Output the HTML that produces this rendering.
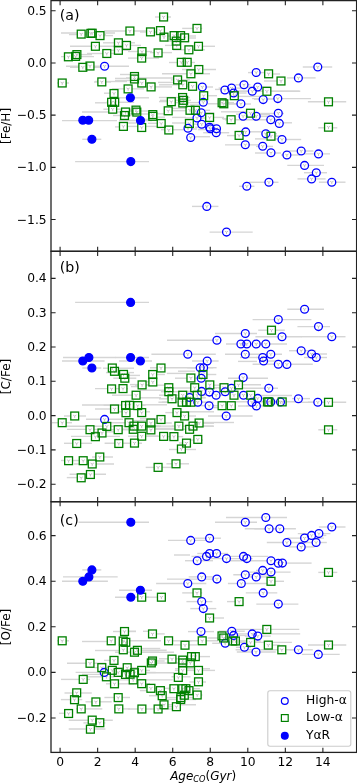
<!DOCTYPE html>
<html><head><meta charset="utf-8"><title>Age vs abundance</title>
<style>html,body{margin:0;padding:0;background:#fff;}svg{display:block;}</style>
</head><body>
<svg width="357" height="783" viewBox="0 0 357 783" font-family="DejaVu Sans, Liberation Sans, sans-serif">
<rect width="357" height="783" fill="#fff"/>
<g stroke="#d5d5d5" stroke-width="1.4" fill="none">
<path d="M61 33H115"/>
<path d="M69 34.5H106"/>
<path d="M104 31H146"/>
<path d="M140 32H160"/>
<path d="M90 35.6H113"/>
<path d="M70 46.3H117"/>
<path d="M103 42.8H135"/>
<path d="M106 50.3H130"/>
<path d="M87 53.5H115"/>
<path d="M61 56.6H94"/>
<path d="M66 66.2H129"/>
<path d="M70 67.3H100"/>
<path d="M155 17H171"/>
<path d="M166 36H196"/>
<path d="M188 38H196"/>
<path d="M120 45.4H141"/>
<path d="M165 45.4H173"/>
<path d="M195 46.3H215"/>
<path d="M128 51.5H152"/>
<path d="M150 52.6H172"/>
<path d="M128 58.1H159"/>
<path d="M169 62.5H195"/>
<path d="M182 69.5H216"/>
<path d="M162 73.8H210"/>
<path d="M248 72.6H265"/>
<path d="M271 74H280"/>
<path d="M264 81H279"/>
<path d="M198 87H213"/>
<path d="M215 89.4H225"/>
<path d="M200 95.7H217"/>
<path d="M238 96.4H260"/>
<path d="M254 99.2H273"/>
<path d="M229 104H251"/>
<path d="M221 111.8H246"/>
<path d="M260 114.6H270"/>
<path d="M212 117.4H224"/>
<path d="M223 119H236"/>
<path d="M120 74.5H138"/>
<path d="M126 78H174"/>
<path d="M95 81.5H127"/>
<path d="M158 82.4H178"/>
<path d="M140 86.9H172"/>
<path d="M187 86.5H196"/>
<path d="M118 97.8H149"/>
<path d="M159 101.6H172"/>
<path d="M175 102.6H200"/>
<path d="M120 111H149"/>
<path d="M150 113.8H168"/>
<path d="M142 119.4H152"/>
<path d="M82.3 139.3H101.3"/>
<path d="M119 120.5H152"/>
<path d="M75.1 161.6H149"/>
<path d="M302.8 67H332.2"/>
<path d="M286.9 77.9H315.6"/>
<path d="M307.9 101.8H346.2"/>
<path d="M318.3 127.8H337.3"/>
<path d="M282 139.5H301.2"/>
<path d="M289 151H313.4"/>
<path d="M287.3 165.4H324"/>
<path d="M297.5 178.9H325.6"/>
<path d="M318.9 182.2H345.5"/>
<path d="M249 182.3H278.5"/>
<path d="M239.1 186.3H254.4"/>
<path d="M192 206.4H218.4"/>
<path d="M209.6 232.1H252.7"/>
<path d="M57 83H69"/>
<path d="M94 82H111"/>
<path d="M115 80.5H130"/>
<path d="M115 78.4H130"/>
<path d="M104 93.2H112"/>
<path d="M95 102.8H108"/>
<path d="M82 112H122"/>
<path d="M62 120.6H117"/>
<path d="M115 126.9H120"/>
<path d="M190 105H200"/>
<path d="M172 108.4H188"/>
<path d="M128 110.7H135"/>
<path d="M170 110.7H186"/>
<path d="M130 114H150"/>
<path d="M157 117.2H165"/>
<path d="M172 117.4H186"/>
<path d="M128 123H139"/>
<path d="M148 123.3H164"/>
<path d="M172 123H186"/>
<path d="M128 126.4H159"/>
<path d="M161 129.7H185"/>
<path d="M190 129H197"/>
<path d="M194 136.7H210"/>
<path d="M236 114.2H243"/>
<path d="M260 113.5H284"/>
<path d="M246 116.4H270"/>
<path d="M222 118.6H231"/>
<path d="M273 122.8H292"/>
<path d="M198 129.6H217"/>
<path d="M242 131.8H264"/>
<path d="M268 133.8H277"/>
<path d="M227 135.6H239"/>
<path d="M275 136H284"/>
<path d="M255 138.9H278"/>
<path d="M225 144.9H259"/>
<path d="M256 146.4H273"/>
<path d="M255 153H281"/>
<path d="M281 155H300"/>
<path d="M184.8 118H212.8"/>
<path d="M188.2 112.8H214.2"/>
<path d="M188.7 124.2H214.7"/>
<path d="M195 127.3H221"/>
<path d="M203.2 132.7H229.2"/>
<path d="M218.6 88.1H244.6"/>
<path d="M220.6 93H246.6"/>
<path d="M235.5 84.8H250.5"/>
<path d="M236.3 91.3H300.3"/>
<path d="M244.7 87H270.7"/>
<path d="M225 119.7H282"/>
<path d="M252.1 98.6H310.9"/>
<path d="M304 172.7H327"/>
<path d="M297.4 153.9H330"/>
<path d="M64.7 54.6H92"/>
<path d="M106.2 102.3H134.2"/>
<path d="M103.4 109.2H134.4"/>
<path d="M112.1 88.9H144.1"/>
<path d="M113 115.5H136"/>
<path d="M166.7 41.1H189.3"/>
<path d="M182.2 28.4H202.2"/>
<path d="M172.9 49.8H204.9"/>
<path d="M137.8 83H150.1"/>
<path d="M170.8 79.9H189.8"/>
<path d="M159.1 84.8H190.1"/>
<path d="M158.9 97.5H189.9"/>
<path d="M159.9 100.3H190.9"/>
<path d="M188.2 110.3H210.2"/>
<path d="M235.4 91.3H299.4"/>
<path d="M218.1 102.7H234"/>
<path d="M207.8 103.8H239.8"/>
<path d="M75.1 302.4H149"/>
<path d="M119 361H152"/>
<path d="M115 357.5H149"/>
<path d="M82.3 368H101.3"/>
<path d="M63 357.5H115.5"/>
<path d="M62 361H104.6"/>
<path d="M287.3 309.3H324"/>
<path d="M301 336.7H318.9"/>
<path d="M318.9 336.7H345.5"/>
<path d="M307.9 402.3H346.2"/>
<path d="M318.3 429.8H337.3"/>
<path d="M166.4 463.8H189"/>
<path d="M145.7 467.4H171.2"/>
<path d="M167 340.2H222"/>
<path d="M215 333.5H257"/>
<path d="M151.4 354.2H215.8"/>
<path d="M192 361H218.6"/>
<path d="M252.6 319.6H311.4"/>
<path d="M297.4 326.6H330"/>
<path d="M258.2 330.2H284.8"/>
<path d="M255.4 336.7H301.6"/>
<path d="M226 344H287"/>
<path d="M289 350.7H315.6"/>
<path d="M225 354.2H282"/>
<path d="M304 354H327"/>
<path d="M304 357.5H327"/>
<path d="M240 357.5H257"/>
<path d="M266 361H282"/>
<path d="M252.6 364.3H312.8"/>
<path d="M238 361.4H257"/>
<path d="M228 378.2H268"/>
<path d="M228 384.7H261"/>
<path d="M240 388.3H278"/>
<path d="M254 395.5H292"/>
<path d="M292 398.6H310"/>
<path d="M236 401.8H300"/>
<path d="M300 402.3H318"/>
<path d="M238 406H251"/>
<path d="M208 416H252.6"/>
<path d="M150 367.8H195"/>
<path d="M178 371.2H195"/>
<path d="M166.8 373.4H186.4"/>
<path d="M175 378.2H199"/>
<path d="M140 381.8H156"/>
<path d="M135 385.2H167"/>
<path d="M214 385.2H234"/>
<path d="M172 388H192"/>
<path d="M206 388H217"/>
<path d="M140 390.2H164"/>
<path d="M178 393H195"/>
<path d="M214 395.2H223"/>
<path d="M235 395.2H250"/>
<path d="M140 397.8H161"/>
<path d="M199 397.8H206"/>
<path d="M135 404.8H167"/>
<path d="M218.6 404.8H234"/>
<path d="M213 407.6H220"/>
<path d="M186 411.8H214"/>
<path d="M140 418.8H158"/>
<path d="M202 422.5H234"/>
<path d="M103 368.2H134"/>
<path d="M106 372.6H134"/>
<path d="M118 375.4H140"/>
<path d="M130 384.6H150"/>
<path d="M95 388.6H128"/>
<path d="M131 386.6H140"/>
<path d="M112 395.2H136"/>
<path d="M82 405H123"/>
<path d="M95 409H112"/>
<path d="M117 411.8H123"/>
<path d="M142 411.8H150"/>
<path d="M64 416H86"/>
<path d="M86 419.2H123"/>
<path d="M52 422.7H72"/>
<path d="M67 426.3H123"/>
<path d="M67 429.4H106"/>
<path d="M95 431.8H114"/>
<path d="M71 436.4H120"/>
<path d="M64 443.3H92"/>
<path d="M104.6 443.3H142"/>
<path d="M92 457H113"/>
<path d="M61 460.5H78"/>
<path d="M78 460.5H90"/>
<path d="M74 464H114"/>
<path d="M69.6 474.2H106"/>
<path d="M66.8 477.6H90"/>
<path d="M125 420.6H151"/>
<path d="M194 423.2H214"/>
<path d="M154 426.2H161"/>
<path d="M200 426.2H214"/>
<path d="M155 428.4H175"/>
<path d="M147 436.2H158"/>
<path d="M167.8 436.6H183.2"/>
<path d="M183 440H203"/>
<path d="M179 443H189"/>
<path d="M169 449.5H196"/>
<path d="M166.9 397.5H204.9"/>
<path d="M185.6 402.2H213.6"/>
<path d="M187.2 367.7H213.2"/>
<path d="M186.3 391.4H212.3"/>
<path d="M190.6 367.7H216.6"/>
<path d="M194.5 405.7H220.5"/>
<path d="M197.2 392.1H216.2"/>
<path d="M212.2 391.7H238.2"/>
<path d="M218.5 388.3H244.5"/>
<path d="M220.7 -100H246.7"/>
<path d="M246.2 405.9H270.2"/>
<path d="M244.7 398.4H270.7"/>
<path d="M256 357.5H273"/>
<path d="M113.3 378.2H136.3"/>
<path d="M148.7 374.5H164.9"/>
<path d="M199 374.5H216.3"/>
<path d="M104.4 429.7H130"/>
<path d="M103.1 422.7H145.1"/>
<path d="M103.6 405.3H145.6"/>
<path d="M114.4 426.1H173.4"/>
<path d="M113.7 429.3H172.7"/>
<path d="M128 426.1H159"/>
<path d="M139.8 423H171.8"/>
<path d="M128 436.2H159"/>
<path d="M161 391.7H185"/>
<path d="M159 398.8H190"/>
<path d="M193.2 395.2H213.7"/>
<path d="M159 395.2H190"/>
<path d="M158.4 402.2H189.4"/>
<path d="M168.3 402.2H194.3"/>
<path d="M162 402.2H210"/>
<path d="M165.3 412.6H181"/>
<path d="M180.6 416H196"/>
<path d="M172.1 426.1H191.1"/>
<path d="M172.2 429.3H193.6"/>
<path d="M187.4 426.1H213.4"/>
<path d="M208 387.7H240"/>
<path d="M78.5 522.3H149"/>
<path d="M82.3 569.9H101.3"/>
<path d="M63 576.9H117.7"/>
<path d="M62 581.3H107.9"/>
<path d="M318.9 527H345.5"/>
<path d="M119 590.2H152"/>
<path d="M115 597.2H149"/>
<path d="M135 597.2H160"/>
<path d="M113 631.5H136"/>
<path d="M82 641.5H111"/>
<path d="M95 650.5H120"/>
<path d="M120 631.3H136"/>
<path d="M143 631.3H148"/>
<path d="M126 640.7H161"/>
<path d="M173.7 644.9H197"/>
<path d="M136.7 648.5H160.3"/>
<path d="M142 652.3H159"/>
<path d="M159 658.8H190"/>
<path d="M188 656.6H210"/>
<path d="M154.6 663H179.3"/>
<path d="M175 668.7H210"/>
<path d="M145.7 672.5H155.8"/>
<path d="M171.5 676.8H190.5"/>
<path d="M189.4 682H206"/>
<path d="M64.5 693H91.8"/>
<path d="M60.9 699.6H82.3"/>
<path d="M85.5 701.8H111.7"/>
<path d="M104.4 697.5H130"/>
<path d="M76 708.9H102.3"/>
<path d="M114 708.9H130"/>
<path d="M59 713.3H73"/>
<path d="M68.7 720.3H112.8"/>
<path d="M83.4 722.9H105.4"/>
<path d="M68.7 729H105.4"/>
<path d="M215 522.3H257"/>
<path d="M168 540.4H206"/>
<path d="M195 538.2H221"/>
<path d="M174 555H190"/>
<path d="M220 553.5H228"/>
<path d="M185 560.7H213"/>
<path d="M208 558.6H252.6"/>
<path d="M282.4 563.1H311.6"/>
<path d="M318.3 572.4H337.3"/>
<path d="M308 645H346.3"/>
<path d="M75.6 672.4H125.6"/>
<path d="M156.1 583.5H206.3"/>
<path d="M188 631.6H214"/>
<path d="M188.7 576.9H214.7"/>
<path d="M186.4 601.6H212.4"/>
<path d="M190.3 608.6H216.3"/>
<path d="M191.5 556.4H218"/>
<path d="M197.3 553.5H216.3"/>
<path d="M167 579.1H222"/>
<path d="M212.2 643.3H238.2"/>
<path d="M218.8 631.2H244.8"/>
<path d="M220.6 635.4H246.6"/>
<path d="M227.9 583.5H269.4"/>
<path d="M228.3 556.4H268.3"/>
<path d="M235.9 647.3H250.9"/>
<path d="M233.3 574.7H272.8"/>
<path d="M236.2 633.9H300.2"/>
<path d="M236.8 652H275.8"/>
<path d="M246 576.9H270"/>
<path d="M244.8 636.1H270.8"/>
<path d="M256 570.4H273"/>
<path d="M245.8 592.9H277.3"/>
<path d="M226 517.5H287"/>
<path d="M244.75 528.8H278.5"/>
<path d="M225.2 560.7H282.2"/>
<path d="M245.6 572.1H290.6"/>
<path d="M256.3 604.1H298.4"/>
<path d="M254.4 528.8H295.9"/>
<path d="M266.8 542.5H306.4"/>
<path d="M289.45 649.8H312.8"/>
<path d="M289 546.9H314.5"/>
<path d="M287.3 538.1H324"/>
<path d="M300.75 535.4H326.3"/>
<path d="M303.8 542.5H326.8"/>
<path d="M301.9 654.4H339.7"/>
<path d="M297.8 533.6H330.4"/>
<path d="M182.2 592.9H202.2"/>
<path d="M267 581.3H284"/>
<path d="M227 601.6H243.1"/>
<path d="M205.6 618H224"/>
<path d="M57 640.8H69"/>
<path d="M67 663.3H106"/>
<path d="M104 660.4H118"/>
<path d="M94 667.6H127"/>
<path d="M103 670.3H134"/>
<path d="M105.8 672.4H129.8"/>
<path d="M82 674.4H129.5"/>
<path d="M120.7 667.7H141.7"/>
<path d="M86.6 676.8H114.6"/>
<path d="M61 679.4H90"/>
<path d="M106 683.8H134"/>
<path d="M148.5 633.9H164.7"/>
<path d="M115 652.2H174"/>
<path d="M133.4 650.3H166.7"/>
<path d="M148.5 661H164.7"/>
<path d="M137.7 670.4H150"/>
<path d="M115 672.7H174"/>
<path d="M104.2 674.2H146.2"/>
<path d="M113.7 679.9H172.7"/>
<path d="M137.7 683.7H150"/>
<path d="M146.9 688.3H175"/>
<path d="M139.9 690.6H164.4"/>
<path d="M149 695.7H166.2"/>
<path d="M164.6 640.8H191.8"/>
<path d="M186.2 640.8H218.2"/>
<path d="M170.3 662.9H194.3"/>
<path d="M174.9 670.4H199.9"/>
<path d="M194.5 670.4H215"/>
<path d="M167.8 688.7H183.2"/>
<path d="M174.9 688.7H199.9"/>
<path d="M178.4 688.7H189.9"/>
<path d="M171.6 690.6H193"/>
<path d="M166.2 697.6H196.2"/>
<path d="M182.4 695H202.4"/>
<path d="M127.9 709H151.9"/>
<path d="M150 709H172"/>
<path d="M160 704.8H196"/>
<path d="M164.7 706.7H180.4"/>
<path d="M166.1 699.5H196.1"/>
<path d="M180.3 695.2H195.7"/>
<path d="M218 635.9H233.9"/>
<path d="M207.7 638H239.7"/>
<path d="M228.8 641H248.8"/>
<path d="M231.4 641H261.1"/>
<path d="M234.9 642.4H291.9"/>
<path d="M235.3 629.4H299.3"/>
<path d="M264.3 645.1H279.7"/>
<path d="M235.6 649.8H299.6"/>
</g>
<g fill="#fff" stroke="none">
<circle cx="104.6" cy="66.2" r="3.92"/>
<circle cx="202.3" cy="87" r="3.92"/>
<circle cx="203.3" cy="102.3" r="3.92"/>
<circle cx="201.2" cy="112.8" r="3.92"/>
<circle cx="197" cy="118" r="3.92"/>
<circle cx="201.7" cy="124.2" r="3.92"/>
<circle cx="188" cy="128.3" r="3.92"/>
<circle cx="190.7" cy="137.5" r="3.92"/>
<circle cx="256.2" cy="72.5" r="3.92"/>
<circle cx="224.9" cy="90" r="3.92"/>
<circle cx="231.6" cy="88.1" r="3.92"/>
<circle cx="233.6" cy="93" r="3.92"/>
<circle cx="244" cy="84.8" r="3.92"/>
<circle cx="252.3" cy="91.3" r="3.92"/>
<circle cx="257.7" cy="87" r="3.92"/>
<circle cx="263.2" cy="99.6" r="3.92"/>
<circle cx="277.8" cy="98.6" r="3.92"/>
<circle cx="240.9" cy="103.8" r="3.92"/>
<circle cx="243.1" cy="116.2" r="3.92"/>
<circle cx="256.2" cy="116.2" r="3.92"/>
<circle cx="270.8" cy="119.7" r="3.92"/>
<circle cx="278.3" cy="113.2" r="3.92"/>
<circle cx="209.6" cy="127.3" r="3.92"/>
<circle cx="216.5" cy="128.7" r="3.92"/>
<circle cx="279.3" cy="123.4" r="3.92"/>
<circle cx="317.8" cy="67" r="3.92"/>
<circle cx="298.4" cy="77.9" r="3.92"/>
<circle cx="216.2" cy="132.7" r="3.92"/>
<circle cx="245.7" cy="131.9" r="3.92"/>
<circle cx="265.8" cy="133.8" r="3.92"/>
<circle cx="245.3" cy="144.8" r="3.92"/>
<circle cx="262.7" cy="146.3" r="3.92"/>
<circle cx="271" cy="152.8" r="3.92"/>
<circle cx="268.9" cy="182.3" r="3.92"/>
<circle cx="246.8" cy="186.3" r="3.92"/>
<circle cx="206.8" cy="206.4" r="3.92"/>
<circle cx="226.5" cy="232.1" r="3.92"/>
<circle cx="282" cy="139.5" r="3.92"/>
<circle cx="301.2" cy="151" r="3.92"/>
<circle cx="286.9" cy="155" r="3.92"/>
<circle cx="318.5" cy="153.9" r="3.92"/>
<circle cx="304.6" cy="165.4" r="3.92"/>
<circle cx="316.3" cy="172.7" r="3.92"/>
<circle cx="311.6" cy="178.9" r="3.92"/>
<circle cx="331.8" cy="182.2" r="3.92"/>
<circle cx="210.3" cy="128.8" r="3.92"/>
<circle cx="187.8" cy="354.2" r="3.92"/>
<circle cx="200.2" cy="367.7" r="3.92"/>
<circle cx="203.6" cy="367.7" r="3.92"/>
<circle cx="207.2" cy="361" r="3.92"/>
<circle cx="216.9" cy="340.2" r="3.92"/>
<circle cx="245.3" cy="333.5" r="3.92"/>
<circle cx="240.9" cy="344" r="3.92"/>
<circle cx="246.8" cy="344" r="3.92"/>
<circle cx="256.2" cy="344" r="3.92"/>
<circle cx="265.8" cy="344" r="3.92"/>
<circle cx="245.3" cy="354.2" r="3.92"/>
<circle cx="262.7" cy="357.5" r="3.92"/>
<circle cx="263.6" cy="361" r="3.92"/>
<circle cx="270.8" cy="354.2" r="3.92"/>
<circle cx="278.3" cy="319.6" r="3.92"/>
<circle cx="282" cy="336.7" r="3.92"/>
<circle cx="278.3" cy="364.2" r="3.92"/>
<circle cx="304.6" cy="309.3" r="3.92"/>
<circle cx="318.5" cy="326.6" r="3.92"/>
<circle cx="331.8" cy="336.7" r="3.92"/>
<circle cx="301.2" cy="350.7" r="3.92"/>
<circle cx="311.6" cy="354" r="3.92"/>
<circle cx="316.3" cy="357.5" r="3.92"/>
<circle cx="286.9" cy="364.4" r="3.92"/>
<circle cx="104.6" cy="419.4" r="3.92"/>
<circle cx="201.2" cy="378.2" r="3.92"/>
<circle cx="201.6" cy="391.4" r="3.92"/>
<circle cx="197.8" cy="402.2" r="3.92"/>
<circle cx="189.6" cy="397.5" r="3.92"/>
<circle cx="243.2" cy="377.6" r="3.92"/>
<circle cx="209.5" cy="392.1" r="3.92"/>
<circle cx="216.1" cy="395.2" r="3.92"/>
<circle cx="225.2" cy="391.7" r="3.92"/>
<circle cx="231.5" cy="388.3" r="3.92"/>
<circle cx="243.5" cy="395.2" r="3.92"/>
<circle cx="209.1" cy="405.7" r="3.92"/>
<circle cx="226.2" cy="416" r="3.92"/>
<circle cx="268.8" cy="388.3" r="3.92"/>
<circle cx="257.7" cy="398.4" r="3.92"/>
<circle cx="252" cy="402.2" r="3.92"/>
<circle cx="256.4" cy="405.9" r="3.92"/>
<circle cx="270.8" cy="401.9" r="3.92"/>
<circle cx="280.5" cy="401.9" r="3.92"/>
<circle cx="298.4" cy="398.8" r="3.92"/>
<circle cx="317.8" cy="402.3" r="3.92"/>
<circle cx="190.7" cy="540.4" r="3.92"/>
<circle cx="197.2" cy="560.7" r="3.92"/>
<circle cx="201.7" cy="576.9" r="3.92"/>
<circle cx="187.8" cy="583.5" r="3.92"/>
<circle cx="201.7" cy="601.6" r="3.92"/>
<circle cx="203.3" cy="608.6" r="3.92"/>
<circle cx="245.3" cy="522.3" r="3.92"/>
<circle cx="265.8" cy="517.5" r="3.92"/>
<circle cx="269.1" cy="528.8" r="3.92"/>
<circle cx="279.8" cy="528.8" r="3.92"/>
<circle cx="209.6" cy="538.2" r="3.92"/>
<circle cx="206.5" cy="556.4" r="3.92"/>
<circle cx="209.6" cy="553.5" r="3.92"/>
<circle cx="216.6" cy="553.5" r="3.92"/>
<circle cx="226.5" cy="558.6" r="3.92"/>
<circle cx="243.5" cy="556.4" r="3.92"/>
<circle cx="246.8" cy="558.6" r="3.92"/>
<circle cx="271" cy="560.7" r="3.92"/>
<circle cx="278.3" cy="563.2" r="3.92"/>
<circle cx="216.9" cy="579.1" r="3.92"/>
<circle cx="245.3" cy="574.7" r="3.92"/>
<circle cx="256.2" cy="576.9" r="3.92"/>
<circle cx="262.7" cy="570.4" r="3.92"/>
<circle cx="271" cy="572.1" r="3.92"/>
<circle cx="241.3" cy="583.5" r="3.92"/>
<circle cx="263.2" cy="592.9" r="3.92"/>
<circle cx="278.3" cy="604.1" r="3.92"/>
<circle cx="331.8" cy="527" r="3.92"/>
<circle cx="318.9" cy="533.6" r="3.92"/>
<circle cx="311.6" cy="535.4" r="3.92"/>
<circle cx="304.6" cy="538.1" r="3.92"/>
<circle cx="316.1" cy="542.5" r="3.92"/>
<circle cx="286.9" cy="542.5" r="3.92"/>
<circle cx="301.2" cy="546.9" r="3.92"/>
<circle cx="282.4" cy="563.1" r="3.92"/>
<circle cx="104.2" cy="672.4" r="3.92"/>
<circle cx="201" cy="631.6" r="3.92"/>
<circle cx="231.8" cy="631.2" r="3.92"/>
<circle cx="233.6" cy="635.4" r="3.92"/>
<circle cx="225.2" cy="643.3" r="3.92"/>
<circle cx="244.4" cy="647.3" r="3.92"/>
<circle cx="252.2" cy="633.9" r="3.92"/>
<circle cx="257.8" cy="636.1" r="3.92"/>
<circle cx="256" cy="652" r="3.92"/>
<circle cx="298.4" cy="649.8" r="3.92"/>
<circle cx="318.3" cy="654.4" r="3.92"/>
<rect x="77.28" y="30.18" width="7.85" height="7.85"/>
<rect x="86.88" y="29.47" width="7.85" height="7.85"/>
<rect x="88.28" y="29.28" width="7.85" height="7.85"/>
<rect x="96.08" y="31.68" width="7.85" height="7.85"/>
<rect x="125.98" y="27.07" width="7.85" height="7.85"/>
<rect x="91.48" y="42.38" width="7.85" height="7.85"/>
<rect x="102.88" y="49.58" width="7.85" height="7.85"/>
<rect x="114.48" y="38.88" width="7.85" height="7.85"/>
<rect x="114.48" y="46.38" width="7.85" height="7.85"/>
<rect x="122.58" y="41.48" width="7.85" height="7.85"/>
<rect x="64.48" y="52.88" width="7.85" height="7.85"/>
<rect x="71.67" y="52.48" width="7.85" height="7.85"/>
<rect x="72.98" y="50.68" width="7.85" height="7.85"/>
<rect x="78.88" y="63.38" width="7.85" height="7.85"/>
<rect x="86.08" y="62.08" width="7.85" height="7.85"/>
<rect x="58.28" y="79.08" width="7.85" height="7.85"/>
<rect x="97.88" y="77.98" width="7.85" height="7.85"/>
<rect x="110.08" y="89.58" width="7.85" height="7.85"/>
<rect x="107.67" y="98.38" width="7.85" height="7.85"/>
<rect x="110.78" y="98.38" width="7.85" height="7.85"/>
<rect x="108.78" y="105.28" width="7.85" height="7.85"/>
<rect x="124.17" y="84.98" width="7.85" height="7.85"/>
<rect x="121.58" y="108.08" width="7.85" height="7.85"/>
<rect x="120.58" y="111.58" width="7.85" height="7.85"/>
<rect x="119.48" y="122.48" width="7.85" height="7.85"/>
<rect x="159.67" y="13.07" width="7.85" height="7.85"/>
<rect x="146.57" y="27.97" width="7.85" height="7.85"/>
<rect x="156.57" y="26.68" width="7.85" height="7.85"/>
<rect x="160.07" y="33.18" width="7.85" height="7.85"/>
<rect x="170.17" y="31.68" width="7.85" height="7.85"/>
<rect x="176.67" y="31.68" width="7.85" height="7.85"/>
<rect x="180.67" y="33.88" width="7.85" height="7.85"/>
<rect x="172.38" y="37.18" width="7.85" height="7.85"/>
<rect x="172.77" y="41.48" width="7.85" height="7.85"/>
<rect x="193.07" y="24.47" width="7.85" height="7.85"/>
<rect x="194.57" y="42.38" width="7.85" height="7.85"/>
<rect x="184.97" y="45.88" width="7.85" height="7.85"/>
<rect x="138.07" y="47.68" width="7.85" height="7.85"/>
<rect x="137.77" y="54.18" width="7.85" height="7.85"/>
<rect x="154.17" y="48.98" width="7.85" height="7.85"/>
<rect x="177.38" y="58.38" width="7.85" height="7.85"/>
<rect x="183.27" y="58.38" width="7.85" height="7.85"/>
<rect x="186.97" y="69.88" width="7.85" height="7.85"/>
<rect x="194.88" y="65.58" width="7.85" height="7.85"/>
<rect x="130.57" y="72.58" width="7.85" height="7.85"/>
<rect x="130.57" y="75.08" width="7.85" height="7.85"/>
<rect x="137.88" y="79.08" width="7.85" height="7.85"/>
<rect x="147.17" y="82.98" width="7.85" height="7.85"/>
<rect x="173.67" y="75.98" width="7.85" height="7.85"/>
<rect x="178.88" y="80.88" width="7.85" height="7.85"/>
<rect x="188.67" y="82.38" width="7.85" height="7.85"/>
<rect x="178.67" y="93.58" width="7.85" height="7.85"/>
<rect x="179.67" y="96.38" width="7.85" height="7.85"/>
<rect x="178.88" y="99.08" width="7.85" height="7.85"/>
<rect x="167.38" y="97.78" width="7.85" height="7.85"/>
<rect x="164.27" y="106.88" width="7.85" height="7.85"/>
<rect x="132.07" y="106.17" width="7.85" height="7.85"/>
<rect x="132.88" y="108.17" width="7.85" height="7.85"/>
<rect x="148.88" y="110.67" width="7.85" height="7.85"/>
<rect x="148.88" y="112.38" width="7.85" height="7.85"/>
<rect x="157.27" y="119.58" width="7.85" height="7.85"/>
<rect x="137.77" y="123.58" width="7.85" height="7.85"/>
<rect x="164.88" y="126.08" width="7.85" height="7.85"/>
<rect x="186.07" y="106.38" width="7.85" height="7.85"/>
<rect x="191.57" y="106.38" width="7.85" height="7.85"/>
<rect x="185.47" y="119.58" width="7.85" height="7.85"/>
<rect x="264.68" y="69.88" width="7.85" height="7.85"/>
<rect x="277.07" y="77.08" width="7.85" height="7.85"/>
<rect x="262.97" y="87.38" width="7.85" height="7.85"/>
<rect x="230.38" y="91.78" width="7.85" height="7.85"/>
<rect x="218.17" y="98.78" width="7.85" height="7.85"/>
<rect x="219.88" y="99.88" width="7.85" height="7.85"/>
<rect x="199.77" y="91.78" width="7.85" height="7.85"/>
<rect x="205.67" y="113.58" width="7.85" height="7.85"/>
<rect x="227.17" y="115.78" width="7.85" height="7.85"/>
<rect x="246.57" y="109.28" width="7.85" height="7.85"/>
<rect x="235.17" y="131.47" width="7.85" height="7.85"/>
<rect x="267.07" y="132.27" width="7.85" height="7.85"/>
<rect x="324.57" y="97.88" width="7.85" height="7.85"/>
<rect x="324.57" y="123.28" width="7.85" height="7.85"/>
<rect x="108.38" y="364.07" width="7.85" height="7.85"/>
<rect x="110.58" y="367.38" width="7.85" height="7.85"/>
<rect x="119.58" y="370.47" width="7.85" height="7.85"/>
<rect x="120.88" y="374.27" width="7.85" height="7.85"/>
<rect x="157.07" y="364.07" width="7.85" height="7.85"/>
<rect x="148.77" y="370.57" width="7.85" height="7.85"/>
<rect x="267.57" y="326.27" width="7.85" height="7.85"/>
<rect x="199.07" y="370.57" width="7.85" height="7.85"/>
<rect x="107.67" y="384.97" width="7.85" height="7.85"/>
<rect x="119.08" y="384.68" width="7.85" height="7.85"/>
<rect x="110.58" y="405.07" width="7.85" height="7.85"/>
<rect x="121.67" y="401.57" width="7.85" height="7.85"/>
<rect x="122.08" y="408.77" width="7.85" height="7.85"/>
<rect x="70.78" y="412.07" width="7.85" height="7.85"/>
<rect x="58.28" y="418.77" width="7.85" height="7.85"/>
<rect x="102.88" y="422.47" width="7.85" height="7.85"/>
<rect x="86.08" y="425.77" width="7.85" height="7.85"/>
<rect x="98.08" y="429.07" width="7.85" height="7.85"/>
<rect x="91.48" y="432.77" width="7.85" height="7.85"/>
<rect x="114.28" y="425.77" width="7.85" height="7.85"/>
<rect x="125.08" y="418.77" width="7.85" height="7.85"/>
<rect x="72.78" y="439.57" width="7.85" height="7.85"/>
<rect x="114.88" y="439.57" width="7.85" height="7.85"/>
<rect x="64.67" y="456.77" width="7.85" height="7.85"/>
<rect x="79.28" y="456.77" width="7.85" height="7.85"/>
<rect x="95.88" y="453.07" width="7.85" height="7.85"/>
<rect x="88.28" y="460.07" width="7.85" height="7.85"/>
<rect x="86.48" y="470.57" width="7.85" height="7.85"/>
<rect x="77.28" y="473.88" width="7.85" height="7.85"/>
<rect x="138.17" y="380.97" width="7.85" height="7.85"/>
<rect x="132.17" y="391.27" width="7.85" height="7.85"/>
<rect x="125.58" y="401.38" width="7.85" height="7.85"/>
<rect x="133.77" y="401.68" width="7.85" height="7.85"/>
<rect x="137.77" y="408.68" width="7.85" height="7.85"/>
<rect x="157.07" y="415.57" width="7.85" height="7.85"/>
<rect x="129.97" y="422.18" width="7.85" height="7.85"/>
<rect x="129.27" y="425.38" width="7.85" height="7.85"/>
<rect x="137.77" y="422.18" width="7.85" height="7.85"/>
<rect x="146.97" y="419.07" width="7.85" height="7.85"/>
<rect x="146.97" y="425.97" width="7.85" height="7.85"/>
<rect x="137.77" y="432.27" width="7.85" height="7.85"/>
<rect x="159.67" y="432.47" width="7.85" height="7.85"/>
<rect x="130.57" y="439.18" width="7.85" height="7.85"/>
<rect x="148.88" y="378.07" width="7.85" height="7.85"/>
<rect x="186.97" y="374.07" width="7.85" height="7.85"/>
<rect x="164.88" y="383.77" width="7.85" height="7.85"/>
<rect x="164.88" y="387.77" width="7.85" height="7.85"/>
<rect x="168.07" y="394.88" width="7.85" height="7.85"/>
<rect x="190.77" y="383.77" width="7.85" height="7.85"/>
<rect x="193.27" y="391.27" width="7.85" height="7.85"/>
<rect x="178.77" y="391.27" width="7.85" height="7.85"/>
<rect x="178.17" y="398.27" width="7.85" height="7.85"/>
<rect x="182.57" y="398.27" width="7.85" height="7.85"/>
<rect x="186.97" y="398.27" width="7.85" height="7.85"/>
<rect x="173.07" y="408.68" width="7.85" height="7.85"/>
<rect x="180.67" y="412.07" width="7.85" height="7.85"/>
<rect x="174.97" y="422.18" width="7.85" height="7.85"/>
<rect x="185.67" y="425.38" width="7.85" height="7.85"/>
<rect x="189.07" y="422.18" width="7.85" height="7.85"/>
<rect x="195.17" y="419.07" width="7.85" height="7.85"/>
<rect x="169.97" y="432.68" width="7.85" height="7.85"/>
<rect x="193.88" y="435.47" width="7.85" height="7.85"/>
<rect x="182.57" y="439.18" width="7.85" height="7.85"/>
<rect x="177.47" y="445.07" width="7.85" height="7.85"/>
<rect x="172.07" y="459.88" width="7.85" height="7.85"/>
<rect x="154.17" y="463.47" width="7.85" height="7.85"/>
<rect x="205.88" y="380.97" width="7.85" height="7.85"/>
<rect x="220.07" y="383.77" width="7.85" height="7.85"/>
<rect x="234.57" y="380.97" width="7.85" height="7.85"/>
<rect x="230.07" y="391.27" width="7.85" height="7.85"/>
<rect x="218.17" y="401.77" width="7.85" height="7.85"/>
<rect x="227.38" y="401.77" width="7.85" height="7.85"/>
<rect x="246.77" y="391.27" width="7.85" height="7.85"/>
<rect x="263.57" y="397.97" width="7.85" height="7.85"/>
<rect x="264.88" y="397.97" width="7.85" height="7.85"/>
<rect x="278.27" y="397.97" width="7.85" height="7.85"/>
<rect x="324.57" y="398.38" width="7.85" height="7.85"/>
<rect x="324.57" y="425.88" width="7.85" height="7.85"/>
<rect x="137.77" y="593.28" width="7.85" height="7.85"/>
<rect x="157.47" y="593.28" width="7.85" height="7.85"/>
<rect x="193.07" y="588.98" width="7.85" height="7.85"/>
<rect x="267.07" y="577.38" width="7.85" height="7.85"/>
<rect x="235.17" y="597.68" width="7.85" height="7.85"/>
<rect x="205.67" y="614.08" width="7.85" height="7.85"/>
<rect x="324.57" y="568.48" width="7.85" height="7.85"/>
<rect x="58.28" y="636.88" width="7.85" height="7.85"/>
<rect x="107.28" y="636.88" width="7.85" height="7.85"/>
<rect x="120.58" y="627.58" width="7.85" height="7.85"/>
<rect x="119.28" y="637.08" width="7.85" height="7.85"/>
<rect x="121.88" y="638.38" width="7.85" height="7.85"/>
<rect x="119.38" y="645.88" width="7.85" height="7.85"/>
<rect x="86.08" y="659.38" width="7.85" height="7.85"/>
<rect x="110.08" y="656.48" width="7.85" height="7.85"/>
<rect x="97.88" y="663.68" width="7.85" height="7.85"/>
<rect x="108.38" y="666.38" width="7.85" height="7.85"/>
<rect x="114.28" y="668.48" width="7.85" height="7.85"/>
<rect x="121.58" y="670.48" width="7.85" height="7.85"/>
<rect x="123.28" y="663.78" width="7.85" height="7.85"/>
<rect x="102.48" y="672.88" width="7.85" height="7.85"/>
<rect x="79.28" y="675.48" width="7.85" height="7.85"/>
<rect x="110.58" y="679.88" width="7.85" height="7.85"/>
<rect x="72.78" y="688.88" width="7.85" height="7.85"/>
<rect x="70.58" y="695.78" width="7.85" height="7.85"/>
<rect x="91.98" y="697.98" width="7.85" height="7.85"/>
<rect x="114.28" y="693.68" width="7.85" height="7.85"/>
<rect x="77.28" y="704.98" width="7.85" height="7.85"/>
<rect x="114.88" y="704.98" width="7.85" height="7.85"/>
<rect x="64.67" y="709.58" width="7.85" height="7.85"/>
<rect x="88.28" y="716.18" width="7.85" height="7.85"/>
<rect x="95.88" y="718.78" width="7.85" height="7.85"/>
<rect x="86.48" y="725.28" width="7.85" height="7.85"/>
<rect x="148.57" y="629.98" width="7.85" height="7.85"/>
<rect x="130.57" y="648.28" width="7.85" height="7.85"/>
<rect x="133.47" y="646.38" width="7.85" height="7.85"/>
<rect x="147.38" y="658.98" width="7.85" height="7.85"/>
<rect x="148.57" y="657.08" width="7.85" height="7.85"/>
<rect x="137.77" y="666.48" width="7.85" height="7.85"/>
<rect x="130.57" y="668.78" width="7.85" height="7.85"/>
<rect x="126.17" y="670.28" width="7.85" height="7.85"/>
<rect x="129.27" y="675.98" width="7.85" height="7.85"/>
<rect x="137.77" y="679.78" width="7.85" height="7.85"/>
<rect x="146.97" y="684.38" width="7.85" height="7.85"/>
<rect x="156.47" y="686.68" width="7.85" height="7.85"/>
<rect x="158.27" y="691.78" width="7.85" height="7.85"/>
<rect x="164.67" y="636.88" width="7.85" height="7.85"/>
<rect x="181.07" y="641.28" width="7.85" height="7.85"/>
<rect x="198.27" y="636.88" width="7.85" height="7.85"/>
<rect x="168.07" y="655.18" width="7.85" height="7.85"/>
<rect x="178.77" y="656.18" width="7.85" height="7.85"/>
<rect x="178.77" y="658.98" width="7.85" height="7.85"/>
<rect x="186.38" y="658.98" width="7.85" height="7.85"/>
<rect x="187.57" y="652.68" width="7.85" height="7.85"/>
<rect x="191.38" y="652.68" width="7.85" height="7.85"/>
<rect x="178.77" y="666.48" width="7.85" height="7.85"/>
<rect x="194.57" y="666.48" width="7.85" height="7.85"/>
<rect x="174.38" y="673.48" width="7.85" height="7.85"/>
<rect x="194.57" y="677.88" width="7.85" height="7.85"/>
<rect x="169.97" y="684.78" width="7.85" height="7.85"/>
<rect x="178.77" y="684.78" width="7.85" height="7.85"/>
<rect x="181.97" y="684.78" width="7.85" height="7.85"/>
<rect x="185.07" y="686.68" width="7.85" height="7.85"/>
<rect x="176.88" y="693.68" width="7.85" height="7.85"/>
<rect x="193.27" y="691.08" width="7.85" height="7.85"/>
<rect x="137.97" y="705.08" width="7.85" height="7.85"/>
<rect x="154.17" y="705.08" width="7.85" height="7.85"/>
<rect x="160.07" y="700.88" width="7.85" height="7.85"/>
<rect x="172.47" y="702.78" width="7.85" height="7.85"/>
<rect x="176.77" y="695.58" width="7.85" height="7.85"/>
<rect x="180.38" y="691.28" width="7.85" height="7.85"/>
<rect x="218.07" y="631.98" width="7.85" height="7.85"/>
<rect x="219.77" y="634.08" width="7.85" height="7.85"/>
<rect x="228.88" y="637.08" width="7.85" height="7.85"/>
<rect x="231.47" y="637.08" width="7.85" height="7.85"/>
<rect x="246.67" y="638.48" width="7.85" height="7.85"/>
<rect x="262.88" y="625.48" width="7.85" height="7.85"/>
<rect x="264.38" y="641.18" width="7.85" height="7.85"/>
<rect x="277.88" y="645.88" width="7.85" height="7.85"/>
<rect x="324.57" y="641.08" width="7.85" height="7.85"/>
</g>
<g stroke="#bdbdbd" stroke-width="0.9" fill="none">
<path d="M104.6 66.2v1.9M104.6 66.2l-1.65 -0.95M104.6 66.2l1.65 -0.95"/>
<path d="M202.3 87v1.9M202.3 87l-1.65 -0.95M202.3 87l1.65 -0.95"/>
<path d="M203.3 102.3v1.9M203.3 102.3l-1.65 -0.95M203.3 102.3l1.65 -0.95"/>
<path d="M201.2 112.8v1.9M201.2 112.8l-1.65 -0.95M201.2 112.8l1.65 -0.95"/>
<path d="M197 118v1.9M197 118l-1.65 -0.95M197 118l1.65 -0.95"/>
<path d="M201.7 124.2v1.9M201.7 124.2l-1.65 -0.95M201.7 124.2l1.65 -0.95"/>
<path d="M188 128.3v1.9M188 128.3l-1.65 -0.95M188 128.3l1.65 -0.95"/>
<path d="M190.7 137.5v1.9M190.7 137.5l-1.65 -0.95M190.7 137.5l1.65 -0.95"/>
<path d="M256.2 72.5v1.9M256.2 72.5l-1.65 -0.95M256.2 72.5l1.65 -0.95"/>
<path d="M224.9 90v1.9M224.9 90l-1.65 -0.95M224.9 90l1.65 -0.95"/>
<path d="M231.6 88.1v1.9M231.6 88.1l-1.65 -0.95M231.6 88.1l1.65 -0.95"/>
<path d="M233.6 93v1.9M233.6 93l-1.65 -0.95M233.6 93l1.65 -0.95"/>
<path d="M244 84.8v1.9M244 84.8l-1.65 -0.95M244 84.8l1.65 -0.95"/>
<path d="M252.3 91.3v1.9M252.3 91.3l-1.65 -0.95M252.3 91.3l1.65 -0.95"/>
<path d="M257.7 87v1.9M257.7 87l-1.65 -0.95M257.7 87l1.65 -0.95"/>
<path d="M263.2 99.6v1.9M263.2 99.6l-1.65 -0.95M263.2 99.6l1.65 -0.95"/>
<path d="M277.8 98.6v1.9M277.8 98.6l-1.65 -0.95M277.8 98.6l1.65 -0.95"/>
<path d="M240.9 103.8v1.9M240.9 103.8l-1.65 -0.95M240.9 103.8l1.65 -0.95"/>
<path d="M243.1 116.2v1.9M243.1 116.2l-1.65 -0.95M243.1 116.2l1.65 -0.95"/>
<path d="M256.2 116.2v1.9M256.2 116.2l-1.65 -0.95M256.2 116.2l1.65 -0.95"/>
<path d="M270.8 119.7v1.9M270.8 119.7l-1.65 -0.95M270.8 119.7l1.65 -0.95"/>
<path d="M278.3 113.2v1.9M278.3 113.2l-1.65 -0.95M278.3 113.2l1.65 -0.95"/>
<path d="M209.6 127.3v1.9M209.6 127.3l-1.65 -0.95M209.6 127.3l1.65 -0.95"/>
<path d="M216.5 128.7v1.9M216.5 128.7l-1.65 -0.95M216.5 128.7l1.65 -0.95"/>
<path d="M279.3 123.4v1.9M279.3 123.4l-1.65 -0.95M279.3 123.4l1.65 -0.95"/>
<path d="M317.8 67v1.9M317.8 67l-1.65 -0.95M317.8 67l1.65 -0.95"/>
<path d="M298.4 77.9v1.9M298.4 77.9l-1.65 -0.95M298.4 77.9l1.65 -0.95"/>
<path d="M216.2 132.7v1.9M216.2 132.7l-1.65 -0.95M216.2 132.7l1.65 -0.95"/>
<path d="M245.7 131.9v1.9M245.7 131.9l-1.65 -0.95M245.7 131.9l1.65 -0.95"/>
<path d="M265.8 133.8v1.9M265.8 133.8l-1.65 -0.95M265.8 133.8l1.65 -0.95"/>
<path d="M245.3 144.8v1.9M245.3 144.8l-1.65 -0.95M245.3 144.8l1.65 -0.95"/>
<path d="M262.7 146.3v1.9M262.7 146.3l-1.65 -0.95M262.7 146.3l1.65 -0.95"/>
<path d="M271 152.8v1.9M271 152.8l-1.65 -0.95M271 152.8l1.65 -0.95"/>
<path d="M268.9 182.3v1.9M268.9 182.3l-1.65 -0.95M268.9 182.3l1.65 -0.95"/>
<path d="M246.8 186.3v1.9M246.8 186.3l-1.65 -0.95M246.8 186.3l1.65 -0.95"/>
<path d="M206.8 206.4v1.9M206.8 206.4l-1.65 -0.95M206.8 206.4l1.65 -0.95"/>
<path d="M226.5 232.1v1.9M226.5 232.1l-1.65 -0.95M226.5 232.1l1.65 -0.95"/>
<path d="M282 139.5v1.9M282 139.5l-1.65 -0.95M282 139.5l1.65 -0.95"/>
<path d="M301.2 151v1.9M301.2 151l-1.65 -0.95M301.2 151l1.65 -0.95"/>
<path d="M286.9 155v1.9M286.9 155l-1.65 -0.95M286.9 155l1.65 -0.95"/>
<path d="M318.5 153.9v1.9M318.5 153.9l-1.65 -0.95M318.5 153.9l1.65 -0.95"/>
<path d="M304.6 165.4v1.9M304.6 165.4l-1.65 -0.95M304.6 165.4l1.65 -0.95"/>
<path d="M316.3 172.7v1.9M316.3 172.7l-1.65 -0.95M316.3 172.7l1.65 -0.95"/>
<path d="M311.6 178.9v1.9M311.6 178.9l-1.65 -0.95M311.6 178.9l1.65 -0.95"/>
<path d="M331.8 182.2v1.9M331.8 182.2l-1.65 -0.95M331.8 182.2l1.65 -0.95"/>
<path d="M210.3 128.8v1.9M210.3 128.8l-1.65 -0.95M210.3 128.8l1.65 -0.95"/>
<path d="M187.8 354.2v1.9M187.8 354.2l-1.65 -0.95M187.8 354.2l1.65 -0.95"/>
<path d="M200.2 367.7v1.9M200.2 367.7l-1.65 -0.95M200.2 367.7l1.65 -0.95"/>
<path d="M203.6 367.7v1.9M203.6 367.7l-1.65 -0.95M203.6 367.7l1.65 -0.95"/>
<path d="M207.2 361v1.9M207.2 361l-1.65 -0.95M207.2 361l1.65 -0.95"/>
<path d="M216.9 340.2v1.9M216.9 340.2l-1.65 -0.95M216.9 340.2l1.65 -0.95"/>
<path d="M245.3 333.5v1.9M245.3 333.5l-1.65 -0.95M245.3 333.5l1.65 -0.95"/>
<path d="M240.9 344v1.9M240.9 344l-1.65 -0.95M240.9 344l1.65 -0.95"/>
<path d="M246.8 344v1.9M246.8 344l-1.65 -0.95M246.8 344l1.65 -0.95"/>
<path d="M256.2 344v1.9M256.2 344l-1.65 -0.95M256.2 344l1.65 -0.95"/>
<path d="M265.8 344v1.9M265.8 344l-1.65 -0.95M265.8 344l1.65 -0.95"/>
<path d="M245.3 354.2v1.9M245.3 354.2l-1.65 -0.95M245.3 354.2l1.65 -0.95"/>
<path d="M262.7 357.5v1.9M262.7 357.5l-1.65 -0.95M262.7 357.5l1.65 -0.95"/>
<path d="M263.6 361v1.9M263.6 361l-1.65 -0.95M263.6 361l1.65 -0.95"/>
<path d="M270.8 354.2v1.9M270.8 354.2l-1.65 -0.95M270.8 354.2l1.65 -0.95"/>
<path d="M278.3 319.6v1.9M278.3 319.6l-1.65 -0.95M278.3 319.6l1.65 -0.95"/>
<path d="M282 336.7v1.9M282 336.7l-1.65 -0.95M282 336.7l1.65 -0.95"/>
<path d="M278.3 364.2v1.9M278.3 364.2l-1.65 -0.95M278.3 364.2l1.65 -0.95"/>
<path d="M304.6 309.3v1.9M304.6 309.3l-1.65 -0.95M304.6 309.3l1.65 -0.95"/>
<path d="M318.5 326.6v1.9M318.5 326.6l-1.65 -0.95M318.5 326.6l1.65 -0.95"/>
<path d="M331.8 336.7v1.9M331.8 336.7l-1.65 -0.95M331.8 336.7l1.65 -0.95"/>
<path d="M301.2 350.7v1.9M301.2 350.7l-1.65 -0.95M301.2 350.7l1.65 -0.95"/>
<path d="M311.6 354v1.9M311.6 354l-1.65 -0.95M311.6 354l1.65 -0.95"/>
<path d="M316.3 357.5v1.9M316.3 357.5l-1.65 -0.95M316.3 357.5l1.65 -0.95"/>
<path d="M286.9 364.4v1.9M286.9 364.4l-1.65 -0.95M286.9 364.4l1.65 -0.95"/>
<path d="M104.6 419.4v1.9M104.6 419.4l-1.65 -0.95M104.6 419.4l1.65 -0.95"/>
<path d="M201.2 378.2v1.9M201.2 378.2l-1.65 -0.95M201.2 378.2l1.65 -0.95"/>
<path d="M201.6 391.4v1.9M201.6 391.4l-1.65 -0.95M201.6 391.4l1.65 -0.95"/>
<path d="M197.8 402.2v1.9M197.8 402.2l-1.65 -0.95M197.8 402.2l1.65 -0.95"/>
<path d="M189.6 397.5v1.9M189.6 397.5l-1.65 -0.95M189.6 397.5l1.65 -0.95"/>
<path d="M243.2 377.6v1.9M243.2 377.6l-1.65 -0.95M243.2 377.6l1.65 -0.95"/>
<path d="M209.5 392.1v1.9M209.5 392.1l-1.65 -0.95M209.5 392.1l1.65 -0.95"/>
<path d="M216.1 395.2v1.9M216.1 395.2l-1.65 -0.95M216.1 395.2l1.65 -0.95"/>
<path d="M225.2 391.7v1.9M225.2 391.7l-1.65 -0.95M225.2 391.7l1.65 -0.95"/>
<path d="M231.5 388.3v1.9M231.5 388.3l-1.65 -0.95M231.5 388.3l1.65 -0.95"/>
<path d="M243.5 395.2v1.9M243.5 395.2l-1.65 -0.95M243.5 395.2l1.65 -0.95"/>
<path d="M209.1 405.7v1.9M209.1 405.7l-1.65 -0.95M209.1 405.7l1.65 -0.95"/>
<path d="M226.2 416v1.9M226.2 416l-1.65 -0.95M226.2 416l1.65 -0.95"/>
<path d="M268.8 388.3v1.9M268.8 388.3l-1.65 -0.95M268.8 388.3l1.65 -0.95"/>
<path d="M257.7 398.4v1.9M257.7 398.4l-1.65 -0.95M257.7 398.4l1.65 -0.95"/>
<path d="M252 402.2v1.9M252 402.2l-1.65 -0.95M252 402.2l1.65 -0.95"/>
<path d="M256.4 405.9v1.9M256.4 405.9l-1.65 -0.95M256.4 405.9l1.65 -0.95"/>
<path d="M270.8 401.9v1.9M270.8 401.9l-1.65 -0.95M270.8 401.9l1.65 -0.95"/>
<path d="M280.5 401.9v1.9M280.5 401.9l-1.65 -0.95M280.5 401.9l1.65 -0.95"/>
<path d="M298.4 398.8v1.9M298.4 398.8l-1.65 -0.95M298.4 398.8l1.65 -0.95"/>
<path d="M317.8 402.3v1.9M317.8 402.3l-1.65 -0.95M317.8 402.3l1.65 -0.95"/>
<path d="M190.7 540.4v1.9M190.7 540.4l-1.65 -0.95M190.7 540.4l1.65 -0.95"/>
<path d="M197.2 560.7v1.9M197.2 560.7l-1.65 -0.95M197.2 560.7l1.65 -0.95"/>
<path d="M201.7 576.9v1.9M201.7 576.9l-1.65 -0.95M201.7 576.9l1.65 -0.95"/>
<path d="M187.8 583.5v1.9M187.8 583.5l-1.65 -0.95M187.8 583.5l1.65 -0.95"/>
<path d="M201.7 601.6v1.9M201.7 601.6l-1.65 -0.95M201.7 601.6l1.65 -0.95"/>
<path d="M203.3 608.6v1.9M203.3 608.6l-1.65 -0.95M203.3 608.6l1.65 -0.95"/>
<path d="M245.3 522.3v1.9M245.3 522.3l-1.65 -0.95M245.3 522.3l1.65 -0.95"/>
<path d="M265.8 517.5v1.9M265.8 517.5l-1.65 -0.95M265.8 517.5l1.65 -0.95"/>
<path d="M269.1 528.8v1.9M269.1 528.8l-1.65 -0.95M269.1 528.8l1.65 -0.95"/>
<path d="M279.8 528.8v1.9M279.8 528.8l-1.65 -0.95M279.8 528.8l1.65 -0.95"/>
<path d="M209.6 538.2v1.9M209.6 538.2l-1.65 -0.95M209.6 538.2l1.65 -0.95"/>
<path d="M206.5 556.4v1.9M206.5 556.4l-1.65 -0.95M206.5 556.4l1.65 -0.95"/>
<path d="M209.6 553.5v1.9M209.6 553.5l-1.65 -0.95M209.6 553.5l1.65 -0.95"/>
<path d="M216.6 553.5v1.9M216.6 553.5l-1.65 -0.95M216.6 553.5l1.65 -0.95"/>
<path d="M226.5 558.6v1.9M226.5 558.6l-1.65 -0.95M226.5 558.6l1.65 -0.95"/>
<path d="M243.5 556.4v1.9M243.5 556.4l-1.65 -0.95M243.5 556.4l1.65 -0.95"/>
<path d="M246.8 558.6v1.9M246.8 558.6l-1.65 -0.95M246.8 558.6l1.65 -0.95"/>
<path d="M271 560.7v1.9M271 560.7l-1.65 -0.95M271 560.7l1.65 -0.95"/>
<path d="M278.3 563.2v1.9M278.3 563.2l-1.65 -0.95M278.3 563.2l1.65 -0.95"/>
<path d="M216.9 579.1v1.9M216.9 579.1l-1.65 -0.95M216.9 579.1l1.65 -0.95"/>
<path d="M245.3 574.7v1.9M245.3 574.7l-1.65 -0.95M245.3 574.7l1.65 -0.95"/>
<path d="M256.2 576.9v1.9M256.2 576.9l-1.65 -0.95M256.2 576.9l1.65 -0.95"/>
<path d="M262.7 570.4v1.9M262.7 570.4l-1.65 -0.95M262.7 570.4l1.65 -0.95"/>
<path d="M271 572.1v1.9M271 572.1l-1.65 -0.95M271 572.1l1.65 -0.95"/>
<path d="M241.3 583.5v1.9M241.3 583.5l-1.65 -0.95M241.3 583.5l1.65 -0.95"/>
<path d="M263.2 592.9v1.9M263.2 592.9l-1.65 -0.95M263.2 592.9l1.65 -0.95"/>
<path d="M278.3 604.1v1.9M278.3 604.1l-1.65 -0.95M278.3 604.1l1.65 -0.95"/>
<path d="M331.8 527v1.9M331.8 527l-1.65 -0.95M331.8 527l1.65 -0.95"/>
<path d="M318.9 533.6v1.9M318.9 533.6l-1.65 -0.95M318.9 533.6l1.65 -0.95"/>
<path d="M311.6 535.4v1.9M311.6 535.4l-1.65 -0.95M311.6 535.4l1.65 -0.95"/>
<path d="M304.6 538.1v1.9M304.6 538.1l-1.65 -0.95M304.6 538.1l1.65 -0.95"/>
<path d="M316.1 542.5v1.9M316.1 542.5l-1.65 -0.95M316.1 542.5l1.65 -0.95"/>
<path d="M286.9 542.5v1.9M286.9 542.5l-1.65 -0.95M286.9 542.5l1.65 -0.95"/>
<path d="M301.2 546.9v1.9M301.2 546.9l-1.65 -0.95M301.2 546.9l1.65 -0.95"/>
<path d="M282.4 563.1v1.9M282.4 563.1l-1.65 -0.95M282.4 563.1l1.65 -0.95"/>
<path d="M104.2 672.4v1.9M104.2 672.4l-1.65 -0.95M104.2 672.4l1.65 -0.95"/>
<path d="M201 631.6v1.9M201 631.6l-1.65 -0.95M201 631.6l1.65 -0.95"/>
<path d="M231.8 631.2v1.9M231.8 631.2l-1.65 -0.95M231.8 631.2l1.65 -0.95"/>
<path d="M233.6 635.4v1.9M233.6 635.4l-1.65 -0.95M233.6 635.4l1.65 -0.95"/>
<path d="M225.2 643.3v1.9M225.2 643.3l-1.65 -0.95M225.2 643.3l1.65 -0.95"/>
<path d="M244.4 647.3v1.9M244.4 647.3l-1.65 -0.95M244.4 647.3l1.65 -0.95"/>
<path d="M252.2 633.9v1.9M252.2 633.9l-1.65 -0.95M252.2 633.9l1.65 -0.95"/>
<path d="M257.8 636.1v1.9M257.8 636.1l-1.65 -0.95M257.8 636.1l1.65 -0.95"/>
<path d="M256 652v1.9M256 652l-1.65 -0.95M256 652l1.65 -0.95"/>
<path d="M298.4 649.8v1.9M298.4 649.8l-1.65 -0.95M298.4 649.8l1.65 -0.95"/>
<path d="M318.3 654.4v1.9M318.3 654.4l-1.65 -0.95M318.3 654.4l1.65 -0.95"/>
<path d="M81.2 34.1v1.9M81.2 34.1l-1.65 -0.95M81.2 34.1l1.65 -0.95"/>
<path d="M90.8 33.4v1.9M90.8 33.4l-1.65 -0.95M90.8 33.4l1.65 -0.95"/>
<path d="M92.2 33.2v1.9M92.2 33.2l-1.65 -0.95M92.2 33.2l1.65 -0.95"/>
<path d="M100 35.6v1.9M100 35.6l-1.65 -0.95M100 35.6l1.65 -0.95"/>
<path d="M129.9 31v1.9M129.9 31l-1.65 -0.95M129.9 31l1.65 -0.95"/>
<path d="M95.4 46.3v1.9M95.4 46.3l-1.65 -0.95M95.4 46.3l1.65 -0.95"/>
<path d="M106.8 53.5v1.9M106.8 53.5l-1.65 -0.95M106.8 53.5l1.65 -0.95"/>
<path d="M118.4 42.8v1.9M118.4 42.8l-1.65 -0.95M118.4 42.8l1.65 -0.95"/>
<path d="M118.4 50.3v1.9M118.4 50.3l-1.65 -0.95M118.4 50.3l1.65 -0.95"/>
<path d="M126.5 45.4v1.9M126.5 45.4l-1.65 -0.95M126.5 45.4l1.65 -0.95"/>
<path d="M68.4 56.8v1.9M68.4 56.8l-1.65 -0.95M68.4 56.8l1.65 -0.95"/>
<path d="M75.6 56.4v1.9M75.6 56.4l-1.65 -0.95M75.6 56.4l1.65 -0.95"/>
<path d="M76.9 54.6v1.9M76.9 54.6l-1.65 -0.95M76.9 54.6l1.65 -0.95"/>
<path d="M82.8 67.3v1.9M82.8 67.3l-1.65 -0.95M82.8 67.3l1.65 -0.95"/>
<path d="M90 66v1.9M90 66l-1.65 -0.95M90 66l1.65 -0.95"/>
<path d="M62.2 83v1.9M62.2 83l-1.65 -0.95M62.2 83l1.65 -0.95"/>
<path d="M101.8 81.9v1.9M101.8 81.9l-1.65 -0.95M101.8 81.9l1.65 -0.95"/>
<path d="M114 93.5v1.9M114 93.5l-1.65 -0.95M114 93.5l1.65 -0.95"/>
<path d="M111.6 102.3v1.9M111.6 102.3l-1.65 -0.95M111.6 102.3l1.65 -0.95"/>
<path d="M114.7 102.3v1.9M114.7 102.3l-1.65 -0.95M114.7 102.3l1.65 -0.95"/>
<path d="M112.7 109.2v1.9M112.7 109.2l-1.65 -0.95M112.7 109.2l1.65 -0.95"/>
<path d="M128.1 88.9v1.9M128.1 88.9l-1.65 -0.95M128.1 88.9l1.65 -0.95"/>
<path d="M125.5 112v1.9M125.5 112l-1.65 -0.95M125.5 112l1.65 -0.95"/>
<path d="M124.5 115.5v1.9M124.5 115.5l-1.65 -0.95M124.5 115.5l1.65 -0.95"/>
<path d="M123.4 126.4v1.9M123.4 126.4l-1.65 -0.95M123.4 126.4l1.65 -0.95"/>
<path d="M163.6 17v1.9M163.6 17l-1.65 -0.95M163.6 17l1.65 -0.95"/>
<path d="M150.5 31.9v1.9M150.5 31.9l-1.65 -0.95M150.5 31.9l1.65 -0.95"/>
<path d="M160.5 30.6v1.9M160.5 30.6l-1.65 -0.95M160.5 30.6l1.65 -0.95"/>
<path d="M164 37.1v1.9M164 37.1l-1.65 -0.95M164 37.1l1.65 -0.95"/>
<path d="M174.1 35.6v1.9M174.1 35.6l-1.65 -0.95M174.1 35.6l1.65 -0.95"/>
<path d="M180.6 35.6v1.9M180.6 35.6l-1.65 -0.95M180.6 35.6l1.65 -0.95"/>
<path d="M184.6 37.8v1.9M184.6 37.8l-1.65 -0.95M184.6 37.8l1.65 -0.95"/>
<path d="M176.3 41.1v1.9M176.3 41.1l-1.65 -0.95M176.3 41.1l1.65 -0.95"/>
<path d="M176.7 45.4v1.9M176.7 45.4l-1.65 -0.95M176.7 45.4l1.65 -0.95"/>
<path d="M197 28.4v1.9M197 28.4l-1.65 -0.95M197 28.4l1.65 -0.95"/>
<path d="M198.5 46.3v1.9M198.5 46.3l-1.65 -0.95M198.5 46.3l1.65 -0.95"/>
<path d="M188.9 49.8v1.9M188.9 49.8l-1.65 -0.95M188.9 49.8l1.65 -0.95"/>
<path d="M142 51.6v1.9M142 51.6l-1.65 -0.95M142 51.6l1.65 -0.95"/>
<path d="M141.7 58.1v1.9M141.7 58.1l-1.65 -0.95M141.7 58.1l1.65 -0.95"/>
<path d="M158.1 52.9v1.9M158.1 52.9l-1.65 -0.95M158.1 52.9l1.65 -0.95"/>
<path d="M181.3 62.3v1.9M181.3 62.3l-1.65 -0.95M181.3 62.3l1.65 -0.95"/>
<path d="M187.2 62.3v1.9M187.2 62.3l-1.65 -0.95M187.2 62.3l1.65 -0.95"/>
<path d="M190.9 73.8v1.9M190.9 73.8l-1.65 -0.95M190.9 73.8l1.65 -0.95"/>
<path d="M198.8 69.5v1.9M198.8 69.5l-1.65 -0.95M198.8 69.5l1.65 -0.95"/>
<path d="M134.5 76.5v1.9M134.5 76.5l-1.65 -0.95M134.5 76.5l1.65 -0.95"/>
<path d="M134.5 79v1.9M134.5 79l-1.65 -0.95M134.5 79l1.65 -0.95"/>
<path d="M141.8 83v1.9M141.8 83l-1.65 -0.95M141.8 83l1.65 -0.95"/>
<path d="M151.1 86.9v1.9M151.1 86.9l-1.65 -0.95M151.1 86.9l1.65 -0.95"/>
<path d="M177.6 79.9v1.9M177.6 79.9l-1.65 -0.95M177.6 79.9l1.65 -0.95"/>
<path d="M182.8 84.8v1.9M182.8 84.8l-1.65 -0.95M182.8 84.8l1.65 -0.95"/>
<path d="M192.6 86.3v1.9M192.6 86.3l-1.65 -0.95M192.6 86.3l1.65 -0.95"/>
<path d="M182.6 97.5v1.9M182.6 97.5l-1.65 -0.95M182.6 97.5l1.65 -0.95"/>
<path d="M183.6 100.3v1.9M183.6 100.3l-1.65 -0.95M183.6 100.3l1.65 -0.95"/>
<path d="M182.8 103v1.9M182.8 103l-1.65 -0.95M182.8 103l1.65 -0.95"/>
<path d="M171.3 101.7v1.9M171.3 101.7l-1.65 -0.95M171.3 101.7l1.65 -0.95"/>
<path d="M168.2 110.8v1.9M168.2 110.8l-1.65 -0.95M168.2 110.8l1.65 -0.95"/>
<path d="M136 110.1v1.9M136 110.1l-1.65 -0.95M136 110.1l1.65 -0.95"/>
<path d="M136.8 112.1v1.9M136.8 112.1l-1.65 -0.95M136.8 112.1l1.65 -0.95"/>
<path d="M152.8 114.6v1.9M152.8 114.6l-1.65 -0.95M152.8 114.6l1.65 -0.95"/>
<path d="M152.8 116.3v1.9M152.8 116.3l-1.65 -0.95M152.8 116.3l1.65 -0.95"/>
<path d="M161.2 123.5v1.9M161.2 123.5l-1.65 -0.95M161.2 123.5l1.65 -0.95"/>
<path d="M141.7 127.5v1.9M141.7 127.5l-1.65 -0.95M141.7 127.5l1.65 -0.95"/>
<path d="M168.8 130v1.9M168.8 130l-1.65 -0.95M168.8 130l1.65 -0.95"/>
<path d="M190 110.3v1.9M190 110.3l-1.65 -0.95M190 110.3l1.65 -0.95"/>
<path d="M195.5 110.3v1.9M195.5 110.3l-1.65 -0.95M195.5 110.3l1.65 -0.95"/>
<path d="M189.4 123.5v1.9M189.4 123.5l-1.65 -0.95M189.4 123.5l1.65 -0.95"/>
<path d="M268.6 73.8v1.9M268.6 73.8l-1.65 -0.95M268.6 73.8l1.65 -0.95"/>
<path d="M281 81v1.9M281 81l-1.65 -0.95M281 81l1.65 -0.95"/>
<path d="M266.9 91.3v1.9M266.9 91.3l-1.65 -0.95M266.9 91.3l1.65 -0.95"/>
<path d="M234.3 95.7v1.9M234.3 95.7l-1.65 -0.95M234.3 95.7l1.65 -0.95"/>
<path d="M222.1 102.7v1.9M222.1 102.7l-1.65 -0.95M222.1 102.7l1.65 -0.95"/>
<path d="M223.8 103.8v1.9M223.8 103.8l-1.65 -0.95M223.8 103.8l1.65 -0.95"/>
<path d="M203.7 95.7v1.9M203.7 95.7l-1.65 -0.95M203.7 95.7l1.65 -0.95"/>
<path d="M209.6 117.5v1.9M209.6 117.5l-1.65 -0.95M209.6 117.5l1.65 -0.95"/>
<path d="M231.1 119.7v1.9M231.1 119.7l-1.65 -0.95M231.1 119.7l1.65 -0.95"/>
<path d="M250.5 113.2v1.9M250.5 113.2l-1.65 -0.95M250.5 113.2l1.65 -0.95"/>
<path d="M239.1 135.4v1.9M239.1 135.4l-1.65 -0.95M239.1 135.4l1.65 -0.95"/>
<path d="M271 136.2v1.9M271 136.2l-1.65 -0.95M271 136.2l1.65 -0.95"/>
<path d="M328.5 101.8v1.9M328.5 101.8l-1.65 -0.95M328.5 101.8l1.65 -0.95"/>
<path d="M328.5 127.2v1.9M328.5 127.2l-1.65 -0.95M328.5 127.2l1.65 -0.95"/>
<path d="M112.3 368v1.9M112.3 368l-1.65 -0.95M112.3 368l1.65 -0.95"/>
<path d="M114.5 371.3v1.9M114.5 371.3l-1.65 -0.95M114.5 371.3l1.65 -0.95"/>
<path d="M123.5 374.4v1.9M123.5 374.4l-1.65 -0.95M123.5 374.4l1.65 -0.95"/>
<path d="M124.8 378.2v1.9M124.8 378.2l-1.65 -0.95M124.8 378.2l1.65 -0.95"/>
<path d="M161 368v1.9M161 368l-1.65 -0.95M161 368l1.65 -0.95"/>
<path d="M152.7 374.5v1.9M152.7 374.5l-1.65 -0.95M152.7 374.5l1.65 -0.95"/>
<path d="M271.5 330.2v1.9M271.5 330.2l-1.65 -0.95M271.5 330.2l1.65 -0.95"/>
<path d="M203 374.5v1.9M203 374.5l-1.65 -0.95M203 374.5l1.65 -0.95"/>
<path d="M111.6 388.9v1.9M111.6 388.9l-1.65 -0.95M111.6 388.9l1.65 -0.95"/>
<path d="M123 388.6v1.9M123 388.6l-1.65 -0.95M123 388.6l1.65 -0.95"/>
<path d="M114.5 409v1.9M114.5 409l-1.65 -0.95M114.5 409l1.65 -0.95"/>
<path d="M125.6 405.5v1.9M125.6 405.5l-1.65 -0.95M125.6 405.5l1.65 -0.95"/>
<path d="M126 412.7v1.9M126 412.7l-1.65 -0.95M126 412.7l1.65 -0.95"/>
<path d="M74.7 416v1.9M74.7 416l-1.65 -0.95M74.7 416l1.65 -0.95"/>
<path d="M62.2 422.7v1.9M62.2 422.7l-1.65 -0.95M62.2 422.7l1.65 -0.95"/>
<path d="M106.8 426.4v1.9M106.8 426.4l-1.65 -0.95M106.8 426.4l1.65 -0.95"/>
<path d="M90 429.7v1.9M90 429.7l-1.65 -0.95M90 429.7l1.65 -0.95"/>
<path d="M102 433v1.9M102 433l-1.65 -0.95M102 433l1.65 -0.95"/>
<path d="M95.4 436.7v1.9M95.4 436.7l-1.65 -0.95M95.4 436.7l1.65 -0.95"/>
<path d="M118.2 429.7v1.9M118.2 429.7l-1.65 -0.95M118.2 429.7l1.65 -0.95"/>
<path d="M129 422.7v1.9M129 422.7l-1.65 -0.95M129 422.7l1.65 -0.95"/>
<path d="M76.7 443.5v1.9M76.7 443.5l-1.65 -0.95M76.7 443.5l1.65 -0.95"/>
<path d="M118.8 443.5v1.9M118.8 443.5l-1.65 -0.95M118.8 443.5l1.65 -0.95"/>
<path d="M68.6 460.7v1.9M68.6 460.7l-1.65 -0.95M68.6 460.7l1.65 -0.95"/>
<path d="M83.2 460.7v1.9M83.2 460.7l-1.65 -0.95M83.2 460.7l1.65 -0.95"/>
<path d="M99.8 457v1.9M99.8 457l-1.65 -0.95M99.8 457l1.65 -0.95"/>
<path d="M92.2 464v1.9M92.2 464l-1.65 -0.95M92.2 464l1.65 -0.95"/>
<path d="M90.4 474.5v1.9M90.4 474.5l-1.65 -0.95M90.4 474.5l1.65 -0.95"/>
<path d="M81.2 477.8v1.9M81.2 477.8l-1.65 -0.95M81.2 477.8l1.65 -0.95"/>
<path d="M142.1 384.9v1.9M142.1 384.9l-1.65 -0.95M142.1 384.9l1.65 -0.95"/>
<path d="M136.1 395.2v1.9M136.1 395.2l-1.65 -0.95M136.1 395.2l1.65 -0.95"/>
<path d="M129.5 405.3v1.9M129.5 405.3l-1.65 -0.95M129.5 405.3l1.65 -0.95"/>
<path d="M137.7 405.6v1.9M137.7 405.6l-1.65 -0.95M137.7 405.6l1.65 -0.95"/>
<path d="M141.7 412.6v1.9M141.7 412.6l-1.65 -0.95M141.7 412.6l1.65 -0.95"/>
<path d="M161 419.5v1.9M161 419.5l-1.65 -0.95M161 419.5l1.65 -0.95"/>
<path d="M133.9 426.1v1.9M133.9 426.1l-1.65 -0.95M133.9 426.1l1.65 -0.95"/>
<path d="M133.2 429.3v1.9M133.2 429.3l-1.65 -0.95M133.2 429.3l1.65 -0.95"/>
<path d="M141.7 426.1v1.9M141.7 426.1l-1.65 -0.95M141.7 426.1l1.65 -0.95"/>
<path d="M150.9 423v1.9M150.9 423l-1.65 -0.95M150.9 423l1.65 -0.95"/>
<path d="M150.9 429.9v1.9M150.9 429.9l-1.65 -0.95M150.9 429.9l1.65 -0.95"/>
<path d="M141.7 436.2v1.9M141.7 436.2l-1.65 -0.95M141.7 436.2l1.65 -0.95"/>
<path d="M163.6 436.4v1.9M163.6 436.4l-1.65 -0.95M163.6 436.4l1.65 -0.95"/>
<path d="M134.5 443.1v1.9M134.5 443.1l-1.65 -0.95M134.5 443.1l1.65 -0.95"/>
<path d="M152.8 382v1.9M152.8 382l-1.65 -0.95M152.8 382l1.65 -0.95"/>
<path d="M190.9 378v1.9M190.9 378l-1.65 -0.95M190.9 378l1.65 -0.95"/>
<path d="M168.8 387.7v1.9M168.8 387.7l-1.65 -0.95M168.8 387.7l1.65 -0.95"/>
<path d="M168.8 391.7v1.9M168.8 391.7l-1.65 -0.95M168.8 391.7l1.65 -0.95"/>
<path d="M172 398.8v1.9M172 398.8l-1.65 -0.95M172 398.8l1.65 -0.95"/>
<path d="M194.7 387.7v1.9M194.7 387.7l-1.65 -0.95M194.7 387.7l1.65 -0.95"/>
<path d="M197.2 395.2v1.9M197.2 395.2l-1.65 -0.95M197.2 395.2l1.65 -0.95"/>
<path d="M182.7 395.2v1.9M182.7 395.2l-1.65 -0.95M182.7 395.2l1.65 -0.95"/>
<path d="M182.1 402.2v1.9M182.1 402.2l-1.65 -0.95M182.1 402.2l1.65 -0.95"/>
<path d="M186.5 402.2v1.9M186.5 402.2l-1.65 -0.95M186.5 402.2l1.65 -0.95"/>
<path d="M190.9 402.2v1.9M190.9 402.2l-1.65 -0.95M190.9 402.2l1.65 -0.95"/>
<path d="M177 412.6v1.9M177 412.6l-1.65 -0.95M177 412.6l1.65 -0.95"/>
<path d="M184.6 416v1.9M184.6 416l-1.65 -0.95M184.6 416l1.65 -0.95"/>
<path d="M178.9 426.1v1.9M178.9 426.1l-1.65 -0.95M178.9 426.1l1.65 -0.95"/>
<path d="M189.6 429.3v1.9M189.6 429.3l-1.65 -0.95M189.6 429.3l1.65 -0.95"/>
<path d="M193 426.1v1.9M193 426.1l-1.65 -0.95M193 426.1l1.65 -0.95"/>
<path d="M199.1 423v1.9M199.1 423l-1.65 -0.95M199.1 423l1.65 -0.95"/>
<path d="M173.9 436.6v1.9M173.9 436.6l-1.65 -0.95M173.9 436.6l1.65 -0.95"/>
<path d="M197.8 439.4v1.9M197.8 439.4l-1.65 -0.95M197.8 439.4l1.65 -0.95"/>
<path d="M186.5 443.1v1.9M186.5 443.1l-1.65 -0.95M186.5 443.1l1.65 -0.95"/>
<path d="M181.4 449v1.9M181.4 449l-1.65 -0.95M181.4 449l1.65 -0.95"/>
<path d="M176 463.8v1.9M176 463.8l-1.65 -0.95M176 463.8l1.65 -0.95"/>
<path d="M158.1 467.4v1.9M158.1 467.4l-1.65 -0.95M158.1 467.4l1.65 -0.95"/>
<path d="M209.8 384.9v1.9M209.8 384.9l-1.65 -0.95M209.8 384.9l1.65 -0.95"/>
<path d="M224 387.7v1.9M224 387.7l-1.65 -0.95M224 387.7l1.65 -0.95"/>
<path d="M238.5 384.9v1.9M238.5 384.9l-1.65 -0.95M238.5 384.9l1.65 -0.95"/>
<path d="M234 395.2v1.9M234 395.2l-1.65 -0.95M234 395.2l1.65 -0.95"/>
<path d="M222.1 405.7v1.9M222.1 405.7l-1.65 -0.95M222.1 405.7l1.65 -0.95"/>
<path d="M231.3 405.7v1.9M231.3 405.7l-1.65 -0.95M231.3 405.7l1.65 -0.95"/>
<path d="M250.7 395.2v1.9M250.7 395.2l-1.65 -0.95M250.7 395.2l1.65 -0.95"/>
<path d="M267.5 401.9v1.9M267.5 401.9l-1.65 -0.95M267.5 401.9l1.65 -0.95"/>
<path d="M268.8 401.9v1.9M268.8 401.9l-1.65 -0.95M268.8 401.9l1.65 -0.95"/>
<path d="M282.2 401.9v1.9M282.2 401.9l-1.65 -0.95M282.2 401.9l1.65 -0.95"/>
<path d="M328.5 402.3v1.9M328.5 402.3l-1.65 -0.95M328.5 402.3l1.65 -0.95"/>
<path d="M328.5 429.8v1.9M328.5 429.8l-1.65 -0.95M328.5 429.8l1.65 -0.95"/>
<path d="M141.7 597.2v1.9M141.7 597.2l-1.65 -0.95M141.7 597.2l1.65 -0.95"/>
<path d="M161.4 597.2v1.9M161.4 597.2l-1.65 -0.95M161.4 597.2l1.65 -0.95"/>
<path d="M197 592.9v1.9M197 592.9l-1.65 -0.95M197 592.9l1.65 -0.95"/>
<path d="M271 581.3v1.9M271 581.3l-1.65 -0.95M271 581.3l1.65 -0.95"/>
<path d="M239.1 601.6v1.9M239.1 601.6l-1.65 -0.95M239.1 601.6l1.65 -0.95"/>
<path d="M209.6 618v1.9M209.6 618l-1.65 -0.95M209.6 618l1.65 -0.95"/>
<path d="M328.5 572.4v1.9M328.5 572.4l-1.65 -0.95M328.5 572.4l1.65 -0.95"/>
<path d="M62.2 640.8v1.9M62.2 640.8l-1.65 -0.95M62.2 640.8l1.65 -0.95"/>
<path d="M111.2 640.8v1.9M111.2 640.8l-1.65 -0.95M111.2 640.8l1.65 -0.95"/>
<path d="M124.5 631.5v1.9M124.5 631.5l-1.65 -0.95M124.5 631.5l1.65 -0.95"/>
<path d="M123.2 641v1.9M123.2 641l-1.65 -0.95M123.2 641l1.65 -0.95"/>
<path d="M125.8 642.3v1.9M125.8 642.3l-1.65 -0.95M125.8 642.3l1.65 -0.95"/>
<path d="M123.3 649.8v1.9M123.3 649.8l-1.65 -0.95M123.3 649.8l1.65 -0.95"/>
<path d="M90 663.3v1.9M90 663.3l-1.65 -0.95M90 663.3l1.65 -0.95"/>
<path d="M114 660.4v1.9M114 660.4l-1.65 -0.95M114 660.4l1.65 -0.95"/>
<path d="M101.8 667.6v1.9M101.8 667.6l-1.65 -0.95M101.8 667.6l1.65 -0.95"/>
<path d="M112.3 670.3v1.9M112.3 670.3l-1.65 -0.95M112.3 670.3l1.65 -0.95"/>
<path d="M118.2 672.4v1.9M118.2 672.4l-1.65 -0.95M118.2 672.4l1.65 -0.95"/>
<path d="M125.5 674.4v1.9M125.5 674.4l-1.65 -0.95M125.5 674.4l1.65 -0.95"/>
<path d="M127.2 667.7v1.9M127.2 667.7l-1.65 -0.95M127.2 667.7l1.65 -0.95"/>
<path d="M106.4 676.8v1.9M106.4 676.8l-1.65 -0.95M106.4 676.8l1.65 -0.95"/>
<path d="M83.2 679.4v1.9M83.2 679.4l-1.65 -0.95M83.2 679.4l1.65 -0.95"/>
<path d="M114.5 683.8v1.9M114.5 683.8l-1.65 -0.95M114.5 683.8l1.65 -0.95"/>
<path d="M76.7 692.8v1.9M76.7 692.8l-1.65 -0.95M76.7 692.8l1.65 -0.95"/>
<path d="M74.5 699.7v1.9M74.5 699.7l-1.65 -0.95M74.5 699.7l1.65 -0.95"/>
<path d="M95.9 701.9v1.9M95.9 701.9l-1.65 -0.95M95.9 701.9l1.65 -0.95"/>
<path d="M118.2 697.6v1.9M118.2 697.6l-1.65 -0.95M118.2 697.6l1.65 -0.95"/>
<path d="M81.2 708.9v1.9M81.2 708.9l-1.65 -0.95M81.2 708.9l1.65 -0.95"/>
<path d="M118.8 708.9v1.9M118.8 708.9l-1.65 -0.95M118.8 708.9l1.65 -0.95"/>
<path d="M68.6 713.5v1.9M68.6 713.5l-1.65 -0.95M68.6 713.5l1.65 -0.95"/>
<path d="M92.2 720.1v1.9M92.2 720.1l-1.65 -0.95M92.2 720.1l1.65 -0.95"/>
<path d="M99.8 722.7v1.9M99.8 722.7l-1.65 -0.95M99.8 722.7l1.65 -0.95"/>
<path d="M90.4 729.2v1.9M90.4 729.2l-1.65 -0.95M90.4 729.2l1.65 -0.95"/>
<path d="M152.5 633.9v1.9M152.5 633.9l-1.65 -0.95M152.5 633.9l1.65 -0.95"/>
<path d="M134.5 652.2v1.9M134.5 652.2l-1.65 -0.95M134.5 652.2l1.65 -0.95"/>
<path d="M137.4 650.3v1.9M137.4 650.3l-1.65 -0.95M137.4 650.3l1.65 -0.95"/>
<path d="M151.3 662.9v1.9M151.3 662.9l-1.65 -0.95M151.3 662.9l1.65 -0.95"/>
<path d="M152.5 661v1.9M152.5 661l-1.65 -0.95M152.5 661l1.65 -0.95"/>
<path d="M141.7 670.4v1.9M141.7 670.4l-1.65 -0.95M141.7 670.4l1.65 -0.95"/>
<path d="M134.5 672.7v1.9M134.5 672.7l-1.65 -0.95M134.5 672.7l1.65 -0.95"/>
<path d="M130.1 674.2v1.9M130.1 674.2l-1.65 -0.95M130.1 674.2l1.65 -0.95"/>
<path d="M133.2 679.9v1.9M133.2 679.9l-1.65 -0.95M133.2 679.9l1.65 -0.95"/>
<path d="M141.7 683.7v1.9M141.7 683.7l-1.65 -0.95M141.7 683.7l1.65 -0.95"/>
<path d="M150.9 688.3v1.9M150.9 688.3l-1.65 -0.95M150.9 688.3l1.65 -0.95"/>
<path d="M160.4 690.6v1.9M160.4 690.6l-1.65 -0.95M160.4 690.6l1.65 -0.95"/>
<path d="M162.2 695.7v1.9M162.2 695.7l-1.65 -0.95M162.2 695.7l1.65 -0.95"/>
<path d="M168.6 640.8v1.9M168.6 640.8l-1.65 -0.95M168.6 640.8l1.65 -0.95"/>
<path d="M185 645.2v1.9M185 645.2l-1.65 -0.95M185 645.2l1.65 -0.95"/>
<path d="M202.2 640.8v1.9M202.2 640.8l-1.65 -0.95M202.2 640.8l1.65 -0.95"/>
<path d="M172 659.1v1.9M172 659.1l-1.65 -0.95M172 659.1l1.65 -0.95"/>
<path d="M182.7 660.1v1.9M182.7 660.1l-1.65 -0.95M182.7 660.1l1.65 -0.95"/>
<path d="M182.7 662.9v1.9M182.7 662.9l-1.65 -0.95M182.7 662.9l1.65 -0.95"/>
<path d="M190.3 662.9v1.9M190.3 662.9l-1.65 -0.95M190.3 662.9l1.65 -0.95"/>
<path d="M191.5 656.6v1.9M191.5 656.6l-1.65 -0.95M191.5 656.6l1.65 -0.95"/>
<path d="M195.3 656.6v1.9M195.3 656.6l-1.65 -0.95M195.3 656.6l1.65 -0.95"/>
<path d="M182.7 670.4v1.9M182.7 670.4l-1.65 -0.95M182.7 670.4l1.65 -0.95"/>
<path d="M198.5 670.4v1.9M198.5 670.4l-1.65 -0.95M198.5 670.4l1.65 -0.95"/>
<path d="M178.3 677.4v1.9M178.3 677.4l-1.65 -0.95M178.3 677.4l1.65 -0.95"/>
<path d="M198.5 681.8v1.9M198.5 681.8l-1.65 -0.95M198.5 681.8l1.65 -0.95"/>
<path d="M173.9 688.7v1.9M173.9 688.7l-1.65 -0.95M173.9 688.7l1.65 -0.95"/>
<path d="M182.7 688.7v1.9M182.7 688.7l-1.65 -0.95M182.7 688.7l1.65 -0.95"/>
<path d="M185.9 688.7v1.9M185.9 688.7l-1.65 -0.95M185.9 688.7l1.65 -0.95"/>
<path d="M189 690.6v1.9M189 690.6l-1.65 -0.95M189 690.6l1.65 -0.95"/>
<path d="M180.8 697.6v1.9M180.8 697.6l-1.65 -0.95M180.8 697.6l1.65 -0.95"/>
<path d="M197.2 695v1.9M197.2 695l-1.65 -0.95M197.2 695l1.65 -0.95"/>
<path d="M141.9 709v1.9M141.9 709l-1.65 -0.95M141.9 709l1.65 -0.95"/>
<path d="M158.1 709v1.9M158.1 709l-1.65 -0.95M158.1 709l1.65 -0.95"/>
<path d="M164 704.8v1.9M164 704.8l-1.65 -0.95M164 704.8l1.65 -0.95"/>
<path d="M176.4 706.7v1.9M176.4 706.7l-1.65 -0.95M176.4 706.7l1.65 -0.95"/>
<path d="M180.7 699.5v1.9M180.7 699.5l-1.65 -0.95M180.7 699.5l1.65 -0.95"/>
<path d="M184.3 695.2v1.9M184.3 695.2l-1.65 -0.95M184.3 695.2l1.65 -0.95"/>
<path d="M222 635.9v1.9M222 635.9l-1.65 -0.95M222 635.9l1.65 -0.95"/>
<path d="M223.7 638v1.9M223.7 638l-1.65 -0.95M223.7 638l1.65 -0.95"/>
<path d="M232.8 641v1.9M232.8 641l-1.65 -0.95M232.8 641l1.65 -0.95"/>
<path d="M235.4 641v1.9M235.4 641l-1.65 -0.95M235.4 641l1.65 -0.95"/>
<path d="M250.6 642.4v1.9M250.6 642.4l-1.65 -0.95M250.6 642.4l1.65 -0.95"/>
<path d="M266.8 629.4v1.9M266.8 629.4l-1.65 -0.95M266.8 629.4l1.65 -0.95"/>
<path d="M268.3 645.1v1.9M268.3 645.1l-1.65 -0.95M268.3 645.1l1.65 -0.95"/>
<path d="M281.8 649.8v1.9M281.8 649.8l-1.65 -0.95M281.8 649.8l1.65 -0.95"/>
<path d="M328.5 645v1.9M328.5 645l-1.65 -0.95M328.5 645l1.65 -0.95"/>
</g>
<g fill="none" stroke="#0000ff" stroke-width="1.3">
<circle cx="104.6" cy="66.2" r="3.92"/>
<circle cx="202.3" cy="87" r="3.92"/>
<circle cx="203.3" cy="102.3" r="3.92"/>
<circle cx="201.2" cy="112.8" r="3.92"/>
<circle cx="197" cy="118" r="3.92"/>
<circle cx="201.7" cy="124.2" r="3.92"/>
<circle cx="188" cy="128.3" r="3.92"/>
<circle cx="190.7" cy="137.5" r="3.92"/>
<circle cx="256.2" cy="72.5" r="3.92"/>
<circle cx="224.9" cy="90" r="3.92"/>
<circle cx="231.6" cy="88.1" r="3.92"/>
<circle cx="233.6" cy="93" r="3.92"/>
<circle cx="244" cy="84.8" r="3.92"/>
<circle cx="252.3" cy="91.3" r="3.92"/>
<circle cx="257.7" cy="87" r="3.92"/>
<circle cx="263.2" cy="99.6" r="3.92"/>
<circle cx="277.8" cy="98.6" r="3.92"/>
<circle cx="240.9" cy="103.8" r="3.92"/>
<circle cx="243.1" cy="116.2" r="3.92"/>
<circle cx="256.2" cy="116.2" r="3.92"/>
<circle cx="270.8" cy="119.7" r="3.92"/>
<circle cx="278.3" cy="113.2" r="3.92"/>
<circle cx="209.6" cy="127.3" r="3.92"/>
<circle cx="216.5" cy="128.7" r="3.92"/>
<circle cx="279.3" cy="123.4" r="3.92"/>
<circle cx="317.8" cy="67" r="3.92"/>
<circle cx="298.4" cy="77.9" r="3.92"/>
<circle cx="216.2" cy="132.7" r="3.92"/>
<circle cx="245.7" cy="131.9" r="3.92"/>
<circle cx="265.8" cy="133.8" r="3.92"/>
<circle cx="245.3" cy="144.8" r="3.92"/>
<circle cx="262.7" cy="146.3" r="3.92"/>
<circle cx="271" cy="152.8" r="3.92"/>
<circle cx="268.9" cy="182.3" r="3.92"/>
<circle cx="246.8" cy="186.3" r="3.92"/>
<circle cx="206.8" cy="206.4" r="3.92"/>
<circle cx="226.5" cy="232.1" r="3.92"/>
<circle cx="282" cy="139.5" r="3.92"/>
<circle cx="301.2" cy="151" r="3.92"/>
<circle cx="286.9" cy="155" r="3.92"/>
<circle cx="318.5" cy="153.9" r="3.92"/>
<circle cx="304.6" cy="165.4" r="3.92"/>
<circle cx="316.3" cy="172.7" r="3.92"/>
<circle cx="311.6" cy="178.9" r="3.92"/>
<circle cx="331.8" cy="182.2" r="3.92"/>
<circle cx="210.3" cy="128.8" r="3.92"/>
<circle cx="187.8" cy="354.2" r="3.92"/>
<circle cx="200.2" cy="367.7" r="3.92"/>
<circle cx="203.6" cy="367.7" r="3.92"/>
<circle cx="207.2" cy="361" r="3.92"/>
<circle cx="216.9" cy="340.2" r="3.92"/>
<circle cx="245.3" cy="333.5" r="3.92"/>
<circle cx="240.9" cy="344" r="3.92"/>
<circle cx="246.8" cy="344" r="3.92"/>
<circle cx="256.2" cy="344" r="3.92"/>
<circle cx="265.8" cy="344" r="3.92"/>
<circle cx="245.3" cy="354.2" r="3.92"/>
<circle cx="262.7" cy="357.5" r="3.92"/>
<circle cx="263.6" cy="361" r="3.92"/>
<circle cx="270.8" cy="354.2" r="3.92"/>
<circle cx="278.3" cy="319.6" r="3.92"/>
<circle cx="282" cy="336.7" r="3.92"/>
<circle cx="278.3" cy="364.2" r="3.92"/>
<circle cx="304.6" cy="309.3" r="3.92"/>
<circle cx="318.5" cy="326.6" r="3.92"/>
<circle cx="331.8" cy="336.7" r="3.92"/>
<circle cx="301.2" cy="350.7" r="3.92"/>
<circle cx="311.6" cy="354" r="3.92"/>
<circle cx="316.3" cy="357.5" r="3.92"/>
<circle cx="286.9" cy="364.4" r="3.92"/>
<circle cx="104.6" cy="419.4" r="3.92"/>
<circle cx="201.2" cy="378.2" r="3.92"/>
<circle cx="201.6" cy="391.4" r="3.92"/>
<circle cx="197.8" cy="402.2" r="3.92"/>
<circle cx="189.6" cy="397.5" r="3.92"/>
<circle cx="243.2" cy="377.6" r="3.92"/>
<circle cx="209.5" cy="392.1" r="3.92"/>
<circle cx="216.1" cy="395.2" r="3.92"/>
<circle cx="225.2" cy="391.7" r="3.92"/>
<circle cx="231.5" cy="388.3" r="3.92"/>
<circle cx="243.5" cy="395.2" r="3.92"/>
<circle cx="209.1" cy="405.7" r="3.92"/>
<circle cx="226.2" cy="416" r="3.92"/>
<circle cx="268.8" cy="388.3" r="3.92"/>
<circle cx="257.7" cy="398.4" r="3.92"/>
<circle cx="252" cy="402.2" r="3.92"/>
<circle cx="256.4" cy="405.9" r="3.92"/>
<circle cx="270.8" cy="401.9" r="3.92"/>
<circle cx="280.5" cy="401.9" r="3.92"/>
<circle cx="298.4" cy="398.8" r="3.92"/>
<circle cx="317.8" cy="402.3" r="3.92"/>
<circle cx="190.7" cy="540.4" r="3.92"/>
<circle cx="197.2" cy="560.7" r="3.92"/>
<circle cx="201.7" cy="576.9" r="3.92"/>
<circle cx="187.8" cy="583.5" r="3.92"/>
<circle cx="201.7" cy="601.6" r="3.92"/>
<circle cx="203.3" cy="608.6" r="3.92"/>
<circle cx="245.3" cy="522.3" r="3.92"/>
<circle cx="265.8" cy="517.5" r="3.92"/>
<circle cx="269.1" cy="528.8" r="3.92"/>
<circle cx="279.8" cy="528.8" r="3.92"/>
<circle cx="209.6" cy="538.2" r="3.92"/>
<circle cx="206.5" cy="556.4" r="3.92"/>
<circle cx="209.6" cy="553.5" r="3.92"/>
<circle cx="216.6" cy="553.5" r="3.92"/>
<circle cx="226.5" cy="558.6" r="3.92"/>
<circle cx="243.5" cy="556.4" r="3.92"/>
<circle cx="246.8" cy="558.6" r="3.92"/>
<circle cx="271" cy="560.7" r="3.92"/>
<circle cx="278.3" cy="563.2" r="3.92"/>
<circle cx="216.9" cy="579.1" r="3.92"/>
<circle cx="245.3" cy="574.7" r="3.92"/>
<circle cx="256.2" cy="576.9" r="3.92"/>
<circle cx="262.7" cy="570.4" r="3.92"/>
<circle cx="271" cy="572.1" r="3.92"/>
<circle cx="241.3" cy="583.5" r="3.92"/>
<circle cx="263.2" cy="592.9" r="3.92"/>
<circle cx="278.3" cy="604.1" r="3.92"/>
<circle cx="331.8" cy="527" r="3.92"/>
<circle cx="318.9" cy="533.6" r="3.92"/>
<circle cx="311.6" cy="535.4" r="3.92"/>
<circle cx="304.6" cy="538.1" r="3.92"/>
<circle cx="316.1" cy="542.5" r="3.92"/>
<circle cx="286.9" cy="542.5" r="3.92"/>
<circle cx="301.2" cy="546.9" r="3.92"/>
<circle cx="282.4" cy="563.1" r="3.92"/>
<circle cx="104.2" cy="672.4" r="3.92"/>
<circle cx="201" cy="631.6" r="3.92"/>
<circle cx="231.8" cy="631.2" r="3.92"/>
<circle cx="233.6" cy="635.4" r="3.92"/>
<circle cx="225.2" cy="643.3" r="3.92"/>
<circle cx="244.4" cy="647.3" r="3.92"/>
<circle cx="252.2" cy="633.9" r="3.92"/>
<circle cx="257.8" cy="636.1" r="3.92"/>
<circle cx="256" cy="652" r="3.92"/>
<circle cx="298.4" cy="649.8" r="3.92"/>
<circle cx="318.3" cy="654.4" r="3.92"/>
</g>
<g fill="none" stroke="#008000" stroke-width="1.3">
<rect x="77.28" y="30.18" width="7.85" height="7.85"/>
<rect x="86.88" y="29.47" width="7.85" height="7.85"/>
<rect x="88.28" y="29.28" width="7.85" height="7.85"/>
<rect x="96.08" y="31.68" width="7.85" height="7.85"/>
<rect x="125.98" y="27.07" width="7.85" height="7.85"/>
<rect x="91.48" y="42.38" width="7.85" height="7.85"/>
<rect x="102.88" y="49.58" width="7.85" height="7.85"/>
<rect x="114.48" y="38.88" width="7.85" height="7.85"/>
<rect x="114.48" y="46.38" width="7.85" height="7.85"/>
<rect x="122.58" y="41.48" width="7.85" height="7.85"/>
<rect x="64.48" y="52.88" width="7.85" height="7.85"/>
<rect x="71.67" y="52.48" width="7.85" height="7.85"/>
<rect x="72.98" y="50.68" width="7.85" height="7.85"/>
<rect x="78.88" y="63.38" width="7.85" height="7.85"/>
<rect x="86.08" y="62.08" width="7.85" height="7.85"/>
<rect x="58.28" y="79.08" width="7.85" height="7.85"/>
<rect x="97.88" y="77.98" width="7.85" height="7.85"/>
<rect x="110.08" y="89.58" width="7.85" height="7.85"/>
<rect x="107.67" y="98.38" width="7.85" height="7.85"/>
<rect x="110.78" y="98.38" width="7.85" height="7.85"/>
<rect x="108.78" y="105.28" width="7.85" height="7.85"/>
<rect x="124.17" y="84.98" width="7.85" height="7.85"/>
<rect x="121.58" y="108.08" width="7.85" height="7.85"/>
<rect x="120.58" y="111.58" width="7.85" height="7.85"/>
<rect x="119.48" y="122.48" width="7.85" height="7.85"/>
<rect x="159.67" y="13.07" width="7.85" height="7.85"/>
<rect x="146.57" y="27.97" width="7.85" height="7.85"/>
<rect x="156.57" y="26.68" width="7.85" height="7.85"/>
<rect x="160.07" y="33.18" width="7.85" height="7.85"/>
<rect x="170.17" y="31.68" width="7.85" height="7.85"/>
<rect x="176.67" y="31.68" width="7.85" height="7.85"/>
<rect x="180.67" y="33.88" width="7.85" height="7.85"/>
<rect x="172.38" y="37.18" width="7.85" height="7.85"/>
<rect x="172.77" y="41.48" width="7.85" height="7.85"/>
<rect x="193.07" y="24.47" width="7.85" height="7.85"/>
<rect x="194.57" y="42.38" width="7.85" height="7.85"/>
<rect x="184.97" y="45.88" width="7.85" height="7.85"/>
<rect x="138.07" y="47.68" width="7.85" height="7.85"/>
<rect x="137.77" y="54.18" width="7.85" height="7.85"/>
<rect x="154.17" y="48.98" width="7.85" height="7.85"/>
<rect x="177.38" y="58.38" width="7.85" height="7.85"/>
<rect x="183.27" y="58.38" width="7.85" height="7.85"/>
<rect x="186.97" y="69.88" width="7.85" height="7.85"/>
<rect x="194.88" y="65.58" width="7.85" height="7.85"/>
<rect x="130.57" y="72.58" width="7.85" height="7.85"/>
<rect x="130.57" y="75.08" width="7.85" height="7.85"/>
<rect x="137.88" y="79.08" width="7.85" height="7.85"/>
<rect x="147.17" y="82.98" width="7.85" height="7.85"/>
<rect x="173.67" y="75.98" width="7.85" height="7.85"/>
<rect x="178.88" y="80.88" width="7.85" height="7.85"/>
<rect x="188.67" y="82.38" width="7.85" height="7.85"/>
<rect x="178.67" y="93.58" width="7.85" height="7.85"/>
<rect x="179.67" y="96.38" width="7.85" height="7.85"/>
<rect x="178.88" y="99.08" width="7.85" height="7.85"/>
<rect x="167.38" y="97.78" width="7.85" height="7.85"/>
<rect x="164.27" y="106.88" width="7.85" height="7.85"/>
<rect x="132.07" y="106.17" width="7.85" height="7.85"/>
<rect x="132.88" y="108.17" width="7.85" height="7.85"/>
<rect x="148.88" y="110.67" width="7.85" height="7.85"/>
<rect x="148.88" y="112.38" width="7.85" height="7.85"/>
<rect x="157.27" y="119.58" width="7.85" height="7.85"/>
<rect x="137.77" y="123.58" width="7.85" height="7.85"/>
<rect x="164.88" y="126.08" width="7.85" height="7.85"/>
<rect x="186.07" y="106.38" width="7.85" height="7.85"/>
<rect x="191.57" y="106.38" width="7.85" height="7.85"/>
<rect x="185.47" y="119.58" width="7.85" height="7.85"/>
<rect x="264.68" y="69.88" width="7.85" height="7.85"/>
<rect x="277.07" y="77.08" width="7.85" height="7.85"/>
<rect x="262.97" y="87.38" width="7.85" height="7.85"/>
<rect x="230.38" y="91.78" width="7.85" height="7.85"/>
<rect x="218.17" y="98.78" width="7.85" height="7.85"/>
<rect x="219.88" y="99.88" width="7.85" height="7.85"/>
<rect x="199.77" y="91.78" width="7.85" height="7.85"/>
<rect x="205.67" y="113.58" width="7.85" height="7.85"/>
<rect x="227.17" y="115.78" width="7.85" height="7.85"/>
<rect x="246.57" y="109.28" width="7.85" height="7.85"/>
<rect x="235.17" y="131.47" width="7.85" height="7.85"/>
<rect x="267.07" y="132.27" width="7.85" height="7.85"/>
<rect x="324.57" y="97.88" width="7.85" height="7.85"/>
<rect x="324.57" y="123.28" width="7.85" height="7.85"/>
<rect x="108.38" y="364.07" width="7.85" height="7.85"/>
<rect x="110.58" y="367.38" width="7.85" height="7.85"/>
<rect x="119.58" y="370.47" width="7.85" height="7.85"/>
<rect x="120.88" y="374.27" width="7.85" height="7.85"/>
<rect x="157.07" y="364.07" width="7.85" height="7.85"/>
<rect x="148.77" y="370.57" width="7.85" height="7.85"/>
<rect x="267.57" y="326.27" width="7.85" height="7.85"/>
<rect x="199.07" y="370.57" width="7.85" height="7.85"/>
<rect x="107.67" y="384.97" width="7.85" height="7.85"/>
<rect x="119.08" y="384.68" width="7.85" height="7.85"/>
<rect x="110.58" y="405.07" width="7.85" height="7.85"/>
<rect x="121.67" y="401.57" width="7.85" height="7.85"/>
<rect x="122.08" y="408.77" width="7.85" height="7.85"/>
<rect x="70.78" y="412.07" width="7.85" height="7.85"/>
<rect x="58.28" y="418.77" width="7.85" height="7.85"/>
<rect x="102.88" y="422.47" width="7.85" height="7.85"/>
<rect x="86.08" y="425.77" width="7.85" height="7.85"/>
<rect x="98.08" y="429.07" width="7.85" height="7.85"/>
<rect x="91.48" y="432.77" width="7.85" height="7.85"/>
<rect x="114.28" y="425.77" width="7.85" height="7.85"/>
<rect x="125.08" y="418.77" width="7.85" height="7.85"/>
<rect x="72.78" y="439.57" width="7.85" height="7.85"/>
<rect x="114.88" y="439.57" width="7.85" height="7.85"/>
<rect x="64.67" y="456.77" width="7.85" height="7.85"/>
<rect x="79.28" y="456.77" width="7.85" height="7.85"/>
<rect x="95.88" y="453.07" width="7.85" height="7.85"/>
<rect x="88.28" y="460.07" width="7.85" height="7.85"/>
<rect x="86.48" y="470.57" width="7.85" height="7.85"/>
<rect x="77.28" y="473.88" width="7.85" height="7.85"/>
<rect x="138.17" y="380.97" width="7.85" height="7.85"/>
<rect x="132.17" y="391.27" width="7.85" height="7.85"/>
<rect x="125.58" y="401.38" width="7.85" height="7.85"/>
<rect x="133.77" y="401.68" width="7.85" height="7.85"/>
<rect x="137.77" y="408.68" width="7.85" height="7.85"/>
<rect x="157.07" y="415.57" width="7.85" height="7.85"/>
<rect x="129.97" y="422.18" width="7.85" height="7.85"/>
<rect x="129.27" y="425.38" width="7.85" height="7.85"/>
<rect x="137.77" y="422.18" width="7.85" height="7.85"/>
<rect x="146.97" y="419.07" width="7.85" height="7.85"/>
<rect x="146.97" y="425.97" width="7.85" height="7.85"/>
<rect x="137.77" y="432.27" width="7.85" height="7.85"/>
<rect x="159.67" y="432.47" width="7.85" height="7.85"/>
<rect x="130.57" y="439.18" width="7.85" height="7.85"/>
<rect x="148.88" y="378.07" width="7.85" height="7.85"/>
<rect x="186.97" y="374.07" width="7.85" height="7.85"/>
<rect x="164.88" y="383.77" width="7.85" height="7.85"/>
<rect x="164.88" y="387.77" width="7.85" height="7.85"/>
<rect x="168.07" y="394.88" width="7.85" height="7.85"/>
<rect x="190.77" y="383.77" width="7.85" height="7.85"/>
<rect x="193.27" y="391.27" width="7.85" height="7.85"/>
<rect x="178.77" y="391.27" width="7.85" height="7.85"/>
<rect x="178.17" y="398.27" width="7.85" height="7.85"/>
<rect x="182.57" y="398.27" width="7.85" height="7.85"/>
<rect x="186.97" y="398.27" width="7.85" height="7.85"/>
<rect x="173.07" y="408.68" width="7.85" height="7.85"/>
<rect x="180.67" y="412.07" width="7.85" height="7.85"/>
<rect x="174.97" y="422.18" width="7.85" height="7.85"/>
<rect x="185.67" y="425.38" width="7.85" height="7.85"/>
<rect x="189.07" y="422.18" width="7.85" height="7.85"/>
<rect x="195.17" y="419.07" width="7.85" height="7.85"/>
<rect x="169.97" y="432.68" width="7.85" height="7.85"/>
<rect x="193.88" y="435.47" width="7.85" height="7.85"/>
<rect x="182.57" y="439.18" width="7.85" height="7.85"/>
<rect x="177.47" y="445.07" width="7.85" height="7.85"/>
<rect x="172.07" y="459.88" width="7.85" height="7.85"/>
<rect x="154.17" y="463.47" width="7.85" height="7.85"/>
<rect x="205.88" y="380.97" width="7.85" height="7.85"/>
<rect x="220.07" y="383.77" width="7.85" height="7.85"/>
<rect x="234.57" y="380.97" width="7.85" height="7.85"/>
<rect x="230.07" y="391.27" width="7.85" height="7.85"/>
<rect x="218.17" y="401.77" width="7.85" height="7.85"/>
<rect x="227.38" y="401.77" width="7.85" height="7.85"/>
<rect x="246.77" y="391.27" width="7.85" height="7.85"/>
<rect x="263.57" y="397.97" width="7.85" height="7.85"/>
<rect x="264.88" y="397.97" width="7.85" height="7.85"/>
<rect x="278.27" y="397.97" width="7.85" height="7.85"/>
<rect x="324.57" y="398.38" width="7.85" height="7.85"/>
<rect x="324.57" y="425.88" width="7.85" height="7.85"/>
<rect x="137.77" y="593.28" width="7.85" height="7.85"/>
<rect x="157.47" y="593.28" width="7.85" height="7.85"/>
<rect x="193.07" y="588.98" width="7.85" height="7.85"/>
<rect x="267.07" y="577.38" width="7.85" height="7.85"/>
<rect x="235.17" y="597.68" width="7.85" height="7.85"/>
<rect x="205.67" y="614.08" width="7.85" height="7.85"/>
<rect x="324.57" y="568.48" width="7.85" height="7.85"/>
<rect x="58.28" y="636.88" width="7.85" height="7.85"/>
<rect x="107.28" y="636.88" width="7.85" height="7.85"/>
<rect x="120.58" y="627.58" width="7.85" height="7.85"/>
<rect x="119.28" y="637.08" width="7.85" height="7.85"/>
<rect x="121.88" y="638.38" width="7.85" height="7.85"/>
<rect x="119.38" y="645.88" width="7.85" height="7.85"/>
<rect x="86.08" y="659.38" width="7.85" height="7.85"/>
<rect x="110.08" y="656.48" width="7.85" height="7.85"/>
<rect x="97.88" y="663.68" width="7.85" height="7.85"/>
<rect x="108.38" y="666.38" width="7.85" height="7.85"/>
<rect x="114.28" y="668.48" width="7.85" height="7.85"/>
<rect x="121.58" y="670.48" width="7.85" height="7.85"/>
<rect x="123.28" y="663.78" width="7.85" height="7.85"/>
<rect x="102.48" y="672.88" width="7.85" height="7.85"/>
<rect x="79.28" y="675.48" width="7.85" height="7.85"/>
<rect x="110.58" y="679.88" width="7.85" height="7.85"/>
<rect x="72.78" y="688.88" width="7.85" height="7.85"/>
<rect x="70.58" y="695.78" width="7.85" height="7.85"/>
<rect x="91.98" y="697.98" width="7.85" height="7.85"/>
<rect x="114.28" y="693.68" width="7.85" height="7.85"/>
<rect x="77.28" y="704.98" width="7.85" height="7.85"/>
<rect x="114.88" y="704.98" width="7.85" height="7.85"/>
<rect x="64.67" y="709.58" width="7.85" height="7.85"/>
<rect x="88.28" y="716.18" width="7.85" height="7.85"/>
<rect x="95.88" y="718.78" width="7.85" height="7.85"/>
<rect x="86.48" y="725.28" width="7.85" height="7.85"/>
<rect x="148.57" y="629.98" width="7.85" height="7.85"/>
<rect x="130.57" y="648.28" width="7.85" height="7.85"/>
<rect x="133.47" y="646.38" width="7.85" height="7.85"/>
<rect x="147.38" y="658.98" width="7.85" height="7.85"/>
<rect x="148.57" y="657.08" width="7.85" height="7.85"/>
<rect x="137.77" y="666.48" width="7.85" height="7.85"/>
<rect x="130.57" y="668.78" width="7.85" height="7.85"/>
<rect x="126.17" y="670.28" width="7.85" height="7.85"/>
<rect x="129.27" y="675.98" width="7.85" height="7.85"/>
<rect x="137.77" y="679.78" width="7.85" height="7.85"/>
<rect x="146.97" y="684.38" width="7.85" height="7.85"/>
<rect x="156.47" y="686.68" width="7.85" height="7.85"/>
<rect x="158.27" y="691.78" width="7.85" height="7.85"/>
<rect x="164.67" y="636.88" width="7.85" height="7.85"/>
<rect x="181.07" y="641.28" width="7.85" height="7.85"/>
<rect x="198.27" y="636.88" width="7.85" height="7.85"/>
<rect x="168.07" y="655.18" width="7.85" height="7.85"/>
<rect x="178.77" y="656.18" width="7.85" height="7.85"/>
<rect x="178.77" y="658.98" width="7.85" height="7.85"/>
<rect x="186.38" y="658.98" width="7.85" height="7.85"/>
<rect x="187.57" y="652.68" width="7.85" height="7.85"/>
<rect x="191.38" y="652.68" width="7.85" height="7.85"/>
<rect x="178.77" y="666.48" width="7.85" height="7.85"/>
<rect x="194.57" y="666.48" width="7.85" height="7.85"/>
<rect x="174.38" y="673.48" width="7.85" height="7.85"/>
<rect x="194.57" y="677.88" width="7.85" height="7.85"/>
<rect x="169.97" y="684.78" width="7.85" height="7.85"/>
<rect x="178.77" y="684.78" width="7.85" height="7.85"/>
<rect x="181.97" y="684.78" width="7.85" height="7.85"/>
<rect x="185.07" y="686.68" width="7.85" height="7.85"/>
<rect x="176.88" y="693.68" width="7.85" height="7.85"/>
<rect x="193.27" y="691.08" width="7.85" height="7.85"/>
<rect x="137.97" y="705.08" width="7.85" height="7.85"/>
<rect x="154.17" y="705.08" width="7.85" height="7.85"/>
<rect x="160.07" y="700.88" width="7.85" height="7.85"/>
<rect x="172.47" y="702.78" width="7.85" height="7.85"/>
<rect x="176.77" y="695.58" width="7.85" height="7.85"/>
<rect x="180.38" y="691.28" width="7.85" height="7.85"/>
<rect x="218.07" y="631.98" width="7.85" height="7.85"/>
<rect x="219.77" y="634.08" width="7.85" height="7.85"/>
<rect x="228.88" y="637.08" width="7.85" height="7.85"/>
<rect x="231.47" y="637.08" width="7.85" height="7.85"/>
<rect x="246.67" y="638.48" width="7.85" height="7.85"/>
<rect x="262.88" y="625.48" width="7.85" height="7.85"/>
<rect x="264.38" y="641.18" width="7.85" height="7.85"/>
<rect x="277.88" y="645.88" width="7.85" height="7.85"/>
<rect x="324.57" y="641.08" width="7.85" height="7.85"/>
</g>
<g fill="#0000ff" stroke="#0000ff" stroke-width="1.3">
<circle cx="82.8" cy="120.2" r="3.92"/>
<circle cx="88.7" cy="120.2" r="3.92"/>
<circle cx="91.9" cy="139.3" r="3.92"/>
<circle cx="130.4" cy="97.8" r="3.92"/>
<circle cx="140.5" cy="120.5" r="3.92"/>
<circle cx="130.8" cy="161.6" r="3.92"/>
<circle cx="130.6" cy="302.4" r="3.92"/>
<circle cx="82.8" cy="361" r="3.92"/>
<circle cx="88.9" cy="357.5" r="3.92"/>
<circle cx="91.9" cy="368" r="3.92"/>
<circle cx="130.6" cy="357.5" r="3.92"/>
<circle cx="140.4" cy="361" r="3.92"/>
<circle cx="130.8" cy="522.3" r="3.92"/>
<circle cx="91.9" cy="569.9" r="3.92"/>
<circle cx="88.9" cy="576.9" r="3.92"/>
<circle cx="82.8" cy="581.3" r="3.92"/>
<circle cx="130.8" cy="597.2" r="3.92"/>
<circle cx="140.4" cy="590.2" r="3.92"/>
</g>
<path d="M60.1 0.6v4.6M60.1 251.3v-4.6M97.64 0.6v4.6M97.64 251.3v-4.6M135.18 0.6v4.6M135.18 251.3v-4.6M172.72 0.6v4.6M172.72 251.3v-4.6M210.26 0.6v4.6M210.26 251.3v-4.6M247.8 0.6v4.6M247.8 251.3v-4.6M285.34 0.6v4.6M285.34 251.3v-4.6M322.88 0.6v4.6M322.88 251.3v-4.6M51 10.75h4.6M356.6 10.75h-4.6M51 62.95h4.6M356.6 62.95h-4.6M51 115.15h4.6M356.6 115.15h-4.6M51 167.35h4.6M356.6 167.35h-4.6M51 219.55h4.6M356.6 219.55h-4.6" stroke="#222" stroke-width="1.1" fill="none"/>
<rect x="51" y="0.6" width="305.6" height="250.7" fill="none" stroke="#222" stroke-width="1.3"/>
<g font-size="12.3" text-anchor="end" fill="#000">
<text x="46.7" y="14.75">0.5</text>
<text x="46.7" y="66.95">0.0</text>
<text x="46.7" y="119.15">−0.5</text>
<text x="46.7" y="171.35">−1.0</text>
<text x="46.7" y="223.55">−1.5</text>
</g>
<text x="59.8" y="19.6" font-size="14.2">(a)</text>
<text transform="translate(9.7 125.95) rotate(-90)" font-size="12.0" text-anchor="middle">[Fe/H]</text>
<path d="M60.1 251.3v4.6M60.1 501.7v-4.6M97.64 251.3v4.6M97.64 501.7v-4.6M135.18 251.3v4.6M135.18 501.7v-4.6M172.72 251.3v4.6M172.72 501.7v-4.6M210.26 251.3v4.6M210.26 501.7v-4.6M247.8 251.3v4.6M247.8 501.7v-4.6M285.34 251.3v4.6M285.34 501.7v-4.6M322.88 251.3v4.6M322.88 501.7v-4.6M51 278.4h4.6M356.6 278.4h-4.6M51 312.7h4.6M356.6 312.7h-4.6M51 347h4.6M356.6 347h-4.6M51 381.3h4.6M356.6 381.3h-4.6M51 415.6h4.6M356.6 415.6h-4.6M51 449.9h4.6M356.6 449.9h-4.6M51 484.2h4.6M356.6 484.2h-4.6" stroke="#222" stroke-width="1.1" fill="none"/>
<rect x="51" y="251.3" width="305.6" height="250.4" fill="none" stroke="#222" stroke-width="1.3"/>
<g font-size="12.3" text-anchor="end" fill="#000">
<text x="46.7" y="282.4">0.4</text>
<text x="46.7" y="316.7">0.3</text>
<text x="46.7" y="351">0.2</text>
<text x="46.7" y="385.3">0.1</text>
<text x="46.7" y="419.6">0.0</text>
<text x="46.7" y="453.9">−0.1</text>
<text x="46.7" y="488.2">−0.2</text>
</g>
<text x="59.8" y="272.2" font-size="14.2">(b)</text>
<text transform="translate(9.7 376.5) rotate(-90)" font-size="12.0" text-anchor="middle">[C/Fe]</text>
<path d="M60.1 501.7v4.6M60.1 752.4v-4.6M97.64 501.7v4.6M97.64 752.4v-4.6M135.18 501.7v4.6M135.18 752.4v-4.6M172.72 501.7v4.6M172.72 752.4v-4.6M210.26 501.7v4.6M210.26 752.4v-4.6M247.8 501.7v4.6M247.8 752.4v-4.6M285.34 501.7v4.6M285.34 752.4v-4.6M322.88 501.7v4.6M322.88 752.4v-4.6M51 535.6h4.6M356.6 535.6h-4.6M51 581.2h4.6M356.6 581.2h-4.6M51 626.8h4.6M356.6 626.8h-4.6M51 672.4h4.6M356.6 672.4h-4.6M51 718h4.6M356.6 718h-4.6" stroke="#222" stroke-width="1.1" fill="none"/>
<rect x="51" y="501.7" width="305.6" height="250.7" fill="none" stroke="#222" stroke-width="1.3"/>
<g font-size="12.3" text-anchor="end" fill="#000">
<text x="46.7" y="539.6">0.6</text>
<text x="46.7" y="585.2">0.4</text>
<text x="46.7" y="630.8">0.2</text>
<text x="46.7" y="676.4">0.0</text>
<text x="46.7" y="722">−0.2</text>
</g>
<text x="59.8" y="525" font-size="14.2">(c)</text>
<text transform="translate(9.7 627.05) rotate(-90)" font-size="12.0" text-anchor="middle">[O/Fe]</text>
<g font-size="12.3" text-anchor="middle">
<text x="60.1" y="765.5">0</text>
<text x="97.64" y="765.5">2</text>
<text x="135.18" y="765.5">4</text>
<text x="172.72" y="765.5">6</text>
<text x="210.26" y="765.5">8</text>
<text x="247.8" y="765.5">10</text>
<text x="285.34" y="765.5">12</text>
<text x="322.88" y="765.5">14</text>
</g>
<text x="203.2" y="780.4" font-size="12.0" text-anchor="middle"><tspan font-style="italic">Age</tspan><tspan font-style="italic" font-size="8.2" dy="2.0">CO</tspan><tspan dy="-2.0">(</tspan><tspan font-style="italic">Gyr</tspan><tspan>)</tspan></text>
<rect x="267.8" y="690.8" width="83" height="55.5" rx="2.2" fill="#fff" fill-opacity="0.8" stroke="#cccccc" stroke-width="1.1"/>
<circle cx="284.8" cy="701.0" r="3.4" fill="none" stroke="#0000ff" stroke-width="1.2"/>
<rect x="281.4" y="714.6" width="6.8" height="6.8" fill="none" stroke="#008000" stroke-width="1.2"/>
<circle cx="284.8" cy="735.8" r="3.4" fill="#0000ff" stroke="#0000ff" stroke-width="1.2"/>
<g font-size="12.3"><text x="306.0" y="703.6">High-α</text><text x="306.0" y="721.1">Low-α</text><text x="306.0" y="738.7">YαR</text></g>
</svg>
</body></html>
